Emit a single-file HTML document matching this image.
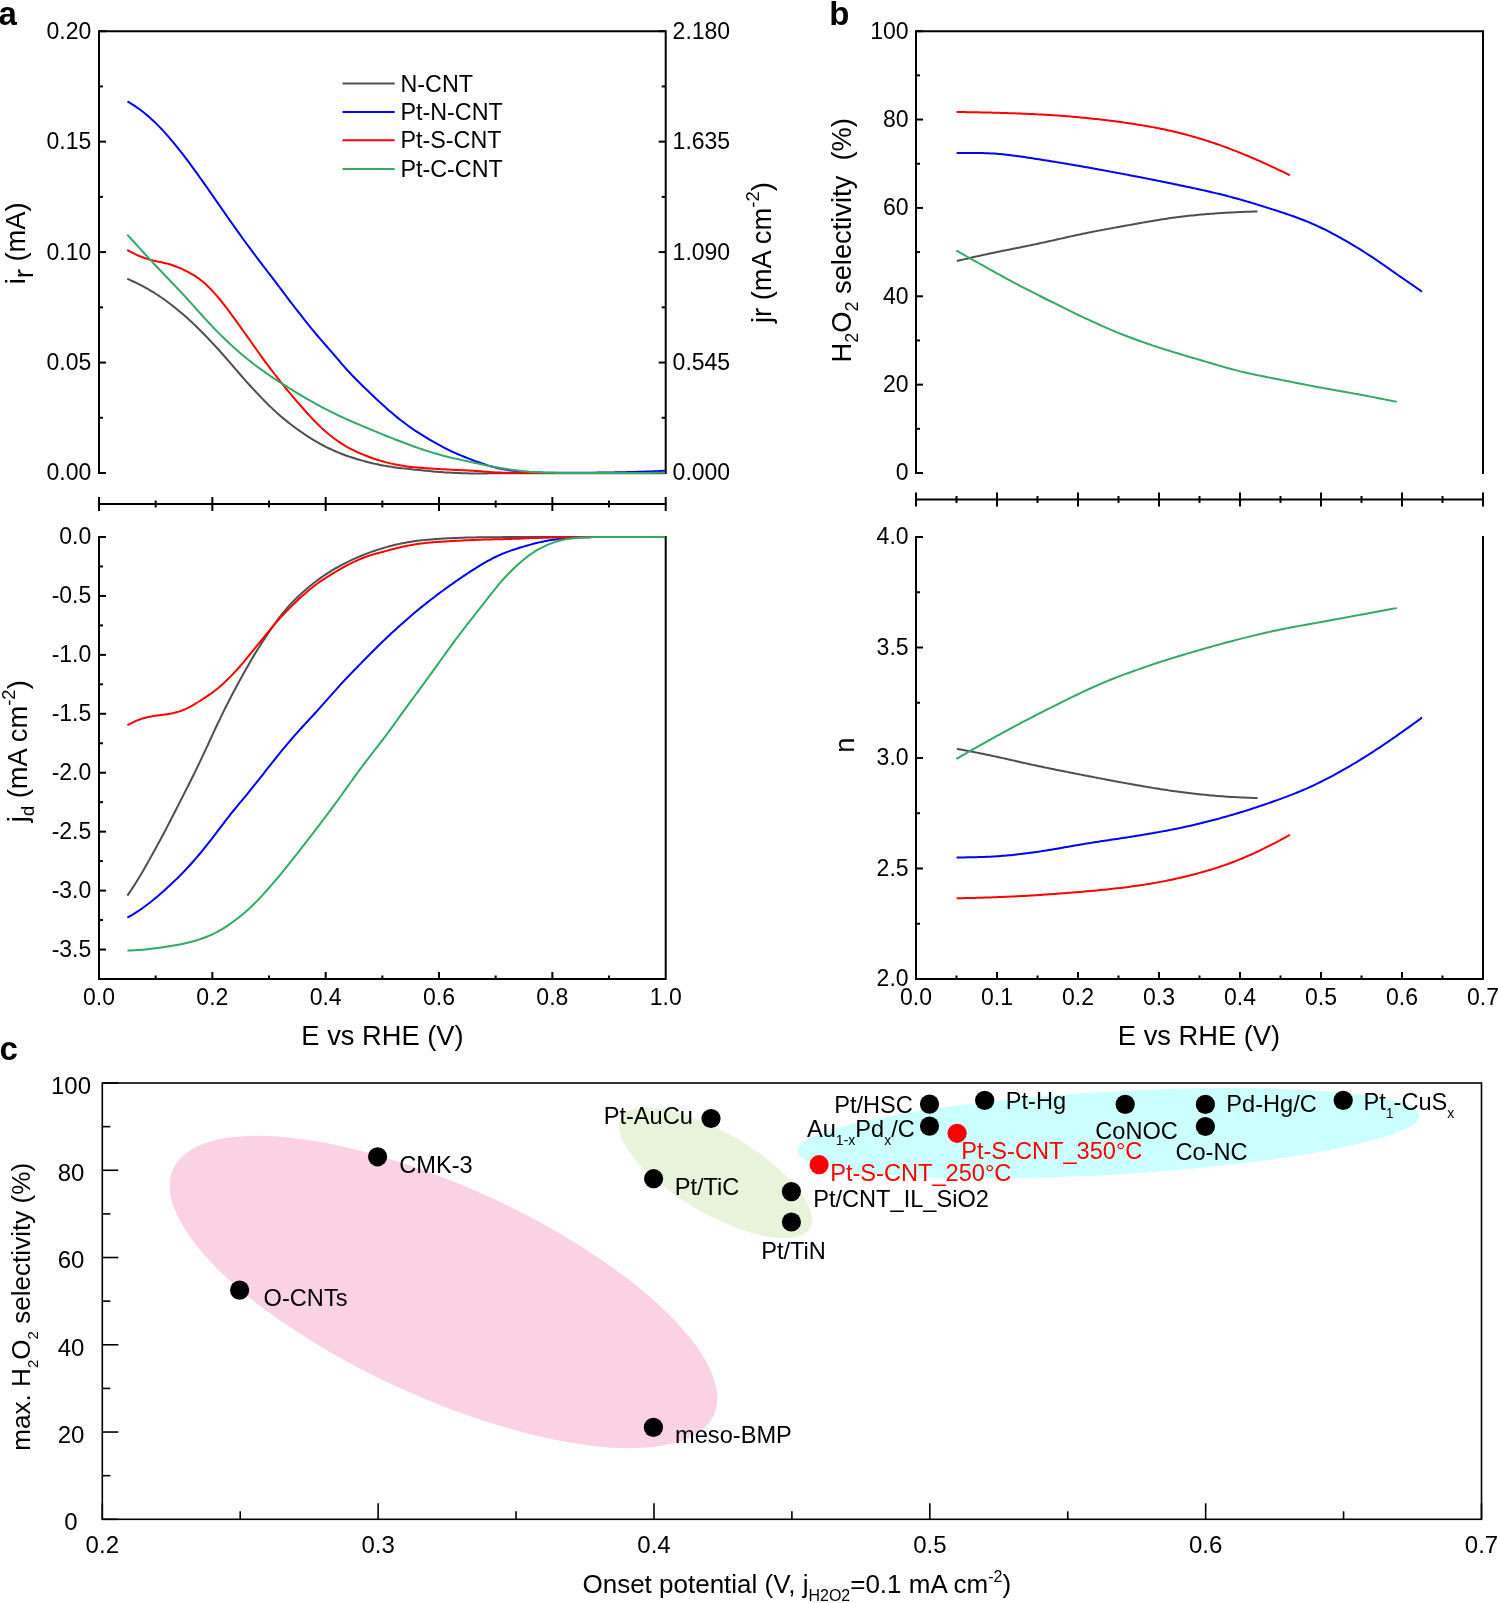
<!DOCTYPE html>
<html><head><meta charset="utf-8"><title>Figure</title><style>
html,body{margin:0;padding:0;background:#fff;overflow:hidden;}
svg{display:block;font-family:"Liberation Sans",sans-serif;will-change:transform;}
</style></head><body>
<svg width="1498" height="1603" viewBox="0 0 1498 1603">
<path d="M99,474 V31.2 H665.7 V474" fill="none" stroke="#000" stroke-width="2"/>
<line x1="99" y1="473" x2="106" y2="473" stroke="#000" stroke-width="2"/>
<line x1="658.7" y1="473" x2="665.7" y2="473" stroke="#000" stroke-width="2"/>
<line x1="99" y1="417.77" x2="103" y2="417.77" stroke="#000" stroke-width="2"/>
<line x1="661.7" y1="417.77" x2="665.7" y2="417.77" stroke="#000" stroke-width="2"/>
<line x1="99" y1="362.55" x2="106" y2="362.55" stroke="#000" stroke-width="2"/>
<line x1="658.7" y1="362.55" x2="665.7" y2="362.55" stroke="#000" stroke-width="2"/>
<line x1="99" y1="307.32" x2="103" y2="307.32" stroke="#000" stroke-width="2"/>
<line x1="661.7" y1="307.32" x2="665.7" y2="307.32" stroke="#000" stroke-width="2"/>
<line x1="99" y1="252.1" x2="106" y2="252.1" stroke="#000" stroke-width="2"/>
<line x1="658.7" y1="252.1" x2="665.7" y2="252.1" stroke="#000" stroke-width="2"/>
<line x1="99" y1="196.88" x2="103" y2="196.88" stroke="#000" stroke-width="2"/>
<line x1="661.7" y1="196.88" x2="665.7" y2="196.88" stroke="#000" stroke-width="2"/>
<line x1="99" y1="141.65" x2="106" y2="141.65" stroke="#000" stroke-width="2"/>
<line x1="658.7" y1="141.65" x2="665.7" y2="141.65" stroke="#000" stroke-width="2"/>
<line x1="99" y1="86.42" x2="103" y2="86.42" stroke="#000" stroke-width="2"/>
<line x1="661.7" y1="86.42" x2="665.7" y2="86.42" stroke="#000" stroke-width="2"/>
<line x1="99" y1="31.2" x2="106" y2="31.2" stroke="#000" stroke-width="2"/>
<line x1="658.7" y1="31.2" x2="665.7" y2="31.2" stroke="#000" stroke-width="2"/>
<text x="91.3" y="480.4" font-size="23" text-anchor="end">0.00</text>
<text x="91.3" y="369.95" font-size="23" text-anchor="end">0.05</text>
<text x="91.3" y="259.5" font-size="23" text-anchor="end">0.10</text>
<text x="91.3" y="149.05" font-size="23" text-anchor="end">0.15</text>
<text x="91.3" y="38.6" font-size="23" text-anchor="end">0.20</text>
<text x="672.6" y="480.4" font-size="23">0.000</text>
<text x="672.6" y="369.95" font-size="23">0.545</text>
<text x="672.6" y="259.5" font-size="23">1.090</text>
<text x="672.6" y="149.05" font-size="23">1.635</text>
<text x="672.6" y="38.6" font-size="23">2.180</text>
<line x1="98" y1="504" x2="666.7" y2="504" stroke="#000" stroke-width="2"/>
<line x1="99" y1="497" x2="99" y2="511" stroke="#000" stroke-width="2"/>
<line x1="155.67" y1="500.5" x2="155.67" y2="507.5" stroke="#000" stroke-width="2"/>
<line x1="212.34" y1="497" x2="212.34" y2="511" stroke="#000" stroke-width="2"/>
<line x1="269.01" y1="500.5" x2="269.01" y2="507.5" stroke="#000" stroke-width="2"/>
<line x1="325.68" y1="497" x2="325.68" y2="511" stroke="#000" stroke-width="2"/>
<line x1="382.35" y1="500.5" x2="382.35" y2="507.5" stroke="#000" stroke-width="2"/>
<line x1="439.02" y1="497" x2="439.02" y2="511" stroke="#000" stroke-width="2"/>
<line x1="495.69" y1="500.5" x2="495.69" y2="507.5" stroke="#000" stroke-width="2"/>
<line x1="552.36" y1="497" x2="552.36" y2="511" stroke="#000" stroke-width="2"/>
<line x1="609.03" y1="500.5" x2="609.03" y2="507.5" stroke="#000" stroke-width="2"/>
<line x1="665.7" y1="497" x2="665.7" y2="511" stroke="#000" stroke-width="2"/>
<path d="M99,536 V979 H665.7 V536" fill="none" stroke="#000" stroke-width="2"/>
<line x1="99" y1="537" x2="106" y2="537" stroke="#000" stroke-width="2"/>
<line x1="99" y1="566.47" x2="103" y2="566.47" stroke="#000" stroke-width="2"/>
<line x1="99" y1="595.93" x2="106" y2="595.93" stroke="#000" stroke-width="2"/>
<line x1="99" y1="625.4" x2="103" y2="625.4" stroke="#000" stroke-width="2"/>
<line x1="99" y1="654.87" x2="106" y2="654.87" stroke="#000" stroke-width="2"/>
<line x1="99" y1="684.33" x2="103" y2="684.33" stroke="#000" stroke-width="2"/>
<line x1="99" y1="713.8" x2="106" y2="713.8" stroke="#000" stroke-width="2"/>
<line x1="99" y1="743.27" x2="103" y2="743.27" stroke="#000" stroke-width="2"/>
<line x1="99" y1="772.73" x2="106" y2="772.73" stroke="#000" stroke-width="2"/>
<line x1="99" y1="802.2" x2="103" y2="802.2" stroke="#000" stroke-width="2"/>
<line x1="99" y1="831.67" x2="106" y2="831.67" stroke="#000" stroke-width="2"/>
<line x1="99" y1="861.13" x2="103" y2="861.13" stroke="#000" stroke-width="2"/>
<line x1="99" y1="890.6" x2="106" y2="890.6" stroke="#000" stroke-width="2"/>
<line x1="99" y1="920.07" x2="103" y2="920.07" stroke="#000" stroke-width="2"/>
<line x1="99" y1="949.53" x2="106" y2="949.53" stroke="#000" stroke-width="2"/>
<line x1="99" y1="979" x2="103" y2="979" stroke="#000" stroke-width="2"/>
<text x="91.3" y="544.4" font-size="23" text-anchor="end">0.0</text>
<text x="91.3" y="603.33" font-size="23" text-anchor="end">-0.5</text>
<text x="91.3" y="662.27" font-size="23" text-anchor="end">-1.0</text>
<text x="91.3" y="721.2" font-size="23" text-anchor="end">-1.5</text>
<text x="91.3" y="780.13" font-size="23" text-anchor="end">-2.0</text>
<text x="91.3" y="839.07" font-size="23" text-anchor="end">-2.5</text>
<text x="91.3" y="898" font-size="23" text-anchor="end">-3.0</text>
<text x="91.3" y="956.93" font-size="23" text-anchor="end">-3.5</text>
<line x1="155.67" y1="979" x2="155.67" y2="975.5" stroke="#000" stroke-width="2"/>
<line x1="212.34" y1="979" x2="212.34" y2="972" stroke="#000" stroke-width="2"/>
<line x1="269.01" y1="979" x2="269.01" y2="975.5" stroke="#000" stroke-width="2"/>
<line x1="325.68" y1="979" x2="325.68" y2="972" stroke="#000" stroke-width="2"/>
<line x1="382.35" y1="979" x2="382.35" y2="975.5" stroke="#000" stroke-width="2"/>
<line x1="439.02" y1="979" x2="439.02" y2="972" stroke="#000" stroke-width="2"/>
<line x1="495.69" y1="979" x2="495.69" y2="975.5" stroke="#000" stroke-width="2"/>
<line x1="552.36" y1="979" x2="552.36" y2="972" stroke="#000" stroke-width="2"/>
<line x1="609.03" y1="979" x2="609.03" y2="975.5" stroke="#000" stroke-width="2"/>
<text x="99" y="1004.7" font-size="23" text-anchor="middle">0.0</text>
<text x="212.34" y="1004.7" font-size="23" text-anchor="middle">0.2</text>
<text x="325.68" y="1004.7" font-size="23" text-anchor="middle">0.4</text>
<text x="439.02" y="1004.7" font-size="23" text-anchor="middle">0.6</text>
<text x="552.36" y="1004.7" font-size="23" text-anchor="middle">0.8</text>
<text x="665.7" y="1004.7" font-size="23" text-anchor="middle">1.0</text>
<text x="382.5" y="1045.2" font-size="27.3" text-anchor="middle">E vs RHE (V)</text>
<path d="M916,474 V31.2 H1483 V474" fill="none" stroke="#000" stroke-width="2"/>
<line x1="916" y1="473" x2="923" y2="473" stroke="#000" stroke-width="2"/>
<line x1="916" y1="428.82" x2="920" y2="428.82" stroke="#000" stroke-width="2"/>
<line x1="916" y1="384.64" x2="923" y2="384.64" stroke="#000" stroke-width="2"/>
<line x1="916" y1="340.46" x2="920" y2="340.46" stroke="#000" stroke-width="2"/>
<line x1="916" y1="296.28" x2="923" y2="296.28" stroke="#000" stroke-width="2"/>
<line x1="916" y1="252.1" x2="920" y2="252.1" stroke="#000" stroke-width="2"/>
<line x1="916" y1="207.92" x2="923" y2="207.92" stroke="#000" stroke-width="2"/>
<line x1="916" y1="163.74" x2="920" y2="163.74" stroke="#000" stroke-width="2"/>
<line x1="916" y1="119.56" x2="923" y2="119.56" stroke="#000" stroke-width="2"/>
<line x1="916" y1="75.38" x2="920" y2="75.38" stroke="#000" stroke-width="2"/>
<line x1="916" y1="31.2" x2="923" y2="31.2" stroke="#000" stroke-width="2"/>
<text x="908.6" y="480.4" font-size="23" text-anchor="end">0</text>
<text x="908.6" y="392.04" font-size="23" text-anchor="end">20</text>
<text x="908.6" y="303.68" font-size="23" text-anchor="end">40</text>
<text x="908.6" y="215.32" font-size="23" text-anchor="end">60</text>
<text x="908.6" y="126.96" font-size="23" text-anchor="end">80</text>
<text x="908.6" y="38.6" font-size="23" text-anchor="end">100</text>
<line x1="915" y1="499.5" x2="1484" y2="499.5" stroke="#000" stroke-width="2"/>
<line x1="916" y1="492.5" x2="916" y2="506.5" stroke="#000" stroke-width="2"/>
<line x1="956.5" y1="496" x2="956.5" y2="503" stroke="#000" stroke-width="2"/>
<line x1="997" y1="492.5" x2="997" y2="506.5" stroke="#000" stroke-width="2"/>
<line x1="1037.5" y1="496" x2="1037.5" y2="503" stroke="#000" stroke-width="2"/>
<line x1="1078" y1="492.5" x2="1078" y2="506.5" stroke="#000" stroke-width="2"/>
<line x1="1118.5" y1="496" x2="1118.5" y2="503" stroke="#000" stroke-width="2"/>
<line x1="1159" y1="492.5" x2="1159" y2="506.5" stroke="#000" stroke-width="2"/>
<line x1="1199.5" y1="496" x2="1199.5" y2="503" stroke="#000" stroke-width="2"/>
<line x1="1240" y1="492.5" x2="1240" y2="506.5" stroke="#000" stroke-width="2"/>
<line x1="1280.5" y1="496" x2="1280.5" y2="503" stroke="#000" stroke-width="2"/>
<line x1="1321" y1="492.5" x2="1321" y2="506.5" stroke="#000" stroke-width="2"/>
<line x1="1361.5" y1="496" x2="1361.5" y2="503" stroke="#000" stroke-width="2"/>
<line x1="1402" y1="492.5" x2="1402" y2="506.5" stroke="#000" stroke-width="2"/>
<line x1="1442.5" y1="496" x2="1442.5" y2="503" stroke="#000" stroke-width="2"/>
<line x1="1483" y1="492.5" x2="1483" y2="506.5" stroke="#000" stroke-width="2"/>
<path d="M916,536 V979 H1483 V536" fill="none" stroke="#000" stroke-width="2"/>
<line x1="916" y1="537" x2="923" y2="537" stroke="#000" stroke-width="2"/>
<line x1="916" y1="592.25" x2="920" y2="592.25" stroke="#000" stroke-width="2"/>
<line x1="916" y1="647.5" x2="923" y2="647.5" stroke="#000" stroke-width="2"/>
<line x1="916" y1="702.75" x2="920" y2="702.75" stroke="#000" stroke-width="2"/>
<line x1="916" y1="758" x2="923" y2="758" stroke="#000" stroke-width="2"/>
<line x1="916" y1="813.25" x2="920" y2="813.25" stroke="#000" stroke-width="2"/>
<line x1="916" y1="868.5" x2="923" y2="868.5" stroke="#000" stroke-width="2"/>
<line x1="916" y1="923.75" x2="920" y2="923.75" stroke="#000" stroke-width="2"/>
<line x1="916" y1="979" x2="923" y2="979" stroke="#000" stroke-width="2"/>
<text x="908.6" y="544.4" font-size="23" text-anchor="end">4.0</text>
<text x="908.6" y="654.9" font-size="23" text-anchor="end">3.5</text>
<text x="908.6" y="765.4" font-size="23" text-anchor="end">3.0</text>
<text x="908.6" y="875.9" font-size="23" text-anchor="end">2.5</text>
<text x="908.6" y="986.4" font-size="23" text-anchor="end">2.0</text>
<line x1="956.5" y1="979" x2="956.5" y2="975.5" stroke="#000" stroke-width="2"/>
<line x1="997" y1="979" x2="997" y2="972" stroke="#000" stroke-width="2"/>
<line x1="1037.5" y1="979" x2="1037.5" y2="975.5" stroke="#000" stroke-width="2"/>
<line x1="1078" y1="979" x2="1078" y2="972" stroke="#000" stroke-width="2"/>
<line x1="1118.5" y1="979" x2="1118.5" y2="975.5" stroke="#000" stroke-width="2"/>
<line x1="1159" y1="979" x2="1159" y2="972" stroke="#000" stroke-width="2"/>
<line x1="1199.5" y1="979" x2="1199.5" y2="975.5" stroke="#000" stroke-width="2"/>
<line x1="1240" y1="979" x2="1240" y2="972" stroke="#000" stroke-width="2"/>
<line x1="1280.5" y1="979" x2="1280.5" y2="975.5" stroke="#000" stroke-width="2"/>
<line x1="1321" y1="979" x2="1321" y2="972" stroke="#000" stroke-width="2"/>
<line x1="1361.5" y1="979" x2="1361.5" y2="975.5" stroke="#000" stroke-width="2"/>
<line x1="1402" y1="979" x2="1402" y2="972" stroke="#000" stroke-width="2"/>
<line x1="1442.5" y1="979" x2="1442.5" y2="975.5" stroke="#000" stroke-width="2"/>
<text x="916" y="1004.7" font-size="23" text-anchor="middle">0.0</text>
<text x="997" y="1004.7" font-size="23" text-anchor="middle">0.1</text>
<text x="1078" y="1004.7" font-size="23" text-anchor="middle">0.2</text>
<text x="1159" y="1004.7" font-size="23" text-anchor="middle">0.3</text>
<text x="1240" y="1004.7" font-size="23" text-anchor="middle">0.4</text>
<text x="1321" y="1004.7" font-size="23" text-anchor="middle">0.5</text>
<text x="1402" y="1004.7" font-size="23" text-anchor="middle">0.6</text>
<text x="1483" y="1004.7" font-size="23" text-anchor="middle">0.7</text>
<text x="1199" y="1045.2" font-size="27.3" text-anchor="middle">E vs RHE (V)</text>
<text x="-1.5" y="25.3" font-size="33" font-weight="bold">a</text>
<text x="829.2" y="24.8" font-size="33" font-weight="bold">b</text>
<text x="-0.5" y="1059.5" font-size="33" font-weight="bold">c</text>
<text transform="translate(24.5,243.4) rotate(-90)" font-size="27.3" text-anchor="middle">i<tspan dy="8.2">r</tspan><tspan dy="-8.2"> (mA)</tspan></text>
<text transform="translate(771.2,252.6) rotate(-90)" font-size="27.3" text-anchor="middle">jr (mA cm<tspan font-size="18.5" dy="-12">-2</tspan><tspan dy="12">)</tspan></text>
<text transform="translate(26.5,751.2) rotate(-90)" font-size="27.3" text-anchor="middle">j<tspan font-size="18.3" dy="7.4">d</tspan><tspan dy="-7.4"> (mA cm</tspan><tspan font-size="18.5" dy="-12">-2</tspan><tspan dy="12">)</tspan></text>
<text transform="translate(851.4,240.3) rotate(-90)" font-size="27.3" text-anchor="middle" xml:space="preserve">H<tspan font-size="18" dy="7">2</tspan><tspan dy="-7">O</tspan><tspan font-size="18" dy="7">2</tspan><tspan dy="-7"> selectivity  (%)</tspan></text>
<text transform="translate(854.4,745.2) rotate(-90)" font-size="27.3" text-anchor="middle">n</text>
<line x1="342.5" y1="83.5" x2="394.7" y2="83.5" stroke="#4f4f4f" stroke-width="2"/>
<text x="400.5" y="91.6" font-size="23.3">N-CNT</text>
<line x1="342.5" y1="112" x2="394.7" y2="112" stroke="#0000ff" stroke-width="2"/>
<text x="400.5" y="120.1" font-size="23.3">Pt-N-CNT</text>
<line x1="342.5" y1="140.3" x2="394.7" y2="140.3" stroke="#ff0000" stroke-width="2"/>
<text x="400.5" y="148.4" font-size="23.3">Pt-S-CNT</text>
<line x1="342.5" y1="168.9" x2="394.7" y2="168.9" stroke="#33a966" stroke-width="2"/>
<text x="400.5" y="177" font-size="23.3">Pt-C-CNT</text>
<path d="M127.3,278.75 L129.3,279.65 L131.3,280.55 L133.3,281.48 L135.3,282.42 L137.3,283.4 L139.3,284.39 L141.3,285.42 L143.3,286.48 L145.3,287.56 L147.3,288.68 L149.3,289.83 L151.3,291.02 L153.3,292.23 L155.3,293.49 L157.3,294.78 L159.3,296.1 L161.3,297.46 L163.3,298.86 L165.3,300.29 L167.3,301.75 L169.3,303.25 L171.3,304.78 L173.3,306.34 L175.3,307.93 L177.3,309.54 L179.3,311.19 L181.3,312.87 L183.3,314.58 L185.3,316.32 L187.3,318.09 L189.3,319.9 L191.3,321.74 L193.3,323.62 L195.3,325.53 L197.3,327.47 L199.3,329.44 L201.3,331.44 L203.3,333.47 L205.3,335.53 L207.3,337.6 L209.3,339.7 L211.3,341.82 L213.3,343.96 L215.3,346.12 L217.3,348.3 L219.3,350.51 L221.3,352.74 L223.3,354.99 L225.3,357.27 L227.3,359.56 L229.3,361.87 L231.3,364.19 L233.3,366.52 L235.3,368.85 L237.3,371.17 L239.3,373.49 L241.3,375.78 L243.3,378.06 L245.3,380.32 L247.3,382.56 L249.3,384.77 L251.3,386.96 L253.3,389.13 L255.3,391.28 L257.3,393.4 L259.3,395.51 L261.3,397.6 L263.3,399.66 L265.3,401.69 L267.3,403.7 L269.3,405.67 L271.3,407.61 L273.3,409.51 L275.3,411.36 L277.3,413.18 L279.3,414.96 L281.3,416.69 L283.3,418.38 L285.3,420.03 L287.3,421.65 L289.3,423.22 L291.3,424.77 L293.3,426.28 L295.3,427.76 L297.3,429.22 L299.3,430.64 L301.3,432.03 L303.3,433.4 L305.3,434.74 L307.3,436.06 L309.3,437.34 L311.3,438.6 L313.3,439.82 L315.3,441.02 L317.3,442.19 L319.3,443.32 L321.3,444.43 L323.3,445.5 L325.3,446.54 L327.3,447.54 L329.3,448.51 L331.3,449.45 L333.3,450.36 L335.3,451.24 L337.3,452.1 L339.3,452.92 L341.3,453.72 L343.3,454.49 L345.3,455.23 L347.3,455.95 L349.3,456.64 L351.3,457.31 L353.3,457.96 L355.3,458.58 L357.3,459.19 L359.3,459.77 L361.3,460.34 L363.3,460.9 L365.3,461.44 L367.3,461.96 L369.3,462.47 L371.3,462.97 L373.3,463.44 L375.3,463.9 L377.3,464.34 L379.3,464.75 L381.3,465.15 L383.3,465.53 L385.3,465.89 L387.3,466.23 L389.3,466.55 L391.3,466.85 L393.3,467.14 L395.3,467.41 L397.3,467.67 L399.3,467.91 L401.3,468.15 L403.3,468.37 L405.3,468.59 L407.3,468.81 L409.3,469.02 L411.3,469.22 L413.3,469.43 L415.3,469.63 L417.3,469.84 L419.3,470.04 L421.3,470.25 L423.3,470.45 L425.3,470.66 L427.3,470.86 L429.3,471.06 L431.3,471.26 L433.3,471.44 L435.3,471.63 L437.3,471.8 L439.3,471.96 L441.3,472.11 L443.3,472.25 L445.3,472.38 L447.3,472.5 L449.3,472.61 L451.3,472.72 L453.3,472.82 L455.3,472.91 L457.3,473 L459.3,473.08 L461.3,473.15 L463.3,473.22 L465.3,473.29 L467.3,473.34 L469.3,473.39 L471.3,473.43 L473.3,473.46 L475.3,473.48 L477.3,473.49 L479.3,473.49 L481.3,473.48 L483.3,473.46 L485.3,473.43 L487.3,473.4 L489.3,473.37 L491.3,473.33 L493.3,473.3 L495.3,473.28 L497.3,473.25 L499.3,473.24 L501.3,473.22 L503.3,473.21 L505.3,473.21 L507.3,473.2 L509.3,473.2 L511.3,473.2 L513.3,473.2 L515.3,473.2 L517.3,473.2 L519.3,473.2 L521.3,473.2 L523.3,473.2 L525.3,473.2 L527.3,473.2 L529.3,473.2 L531.3,473.2 L533.3,473.2 L535.3,473.2 L537.3,473.2 L539.3,473.2 L541.3,473.2 L543.3,473.2 L545.3,473.2 L547.3,473.2 L549.3,473.2 L551.3,473.2 L553.3,473.2 L555.3,473.2 L557.3,473.2 L559.3,473.2 L561.3,473.2 L563.3,473.2 L565.3,473.2 L567.3,473.2 L569.3,473.2 L571.3,473.2 L573.3,473.2 L575.3,473.2 L577.3,473.2 L579.3,473.2 L581.3,473.2 L583.3,473.2 L585.3,473.2 L587.3,473.2 L589.3,473.2 L591.3,473.2 L593.3,473.2 L595.3,473.2 L597.3,473.2 L599.3,473.2 L601.3,473.2 L603.3,473.2 L605.3,473.2 L607.3,473.2 L609.3,473.2 L611.3,473.2 L613.3,473.2 L615.3,473.2 L617.3,473.2 L619.3,473.2 L621.3,473.2 L623.3,473.2 L625.3,473.2 L627.3,473.2 L629.3,473.2 L631.3,473.2 L633.3,473.2 L635.3,473.2 L637.3,473.2 L639.3,473.2 L641.3,473.2 L643.3,473.2 L645.3,473.2 L647.3,473.2 L649.3,473.2 L651.3,473.2 L653.3,473.2 L655.3,473.2 L657.3,473.2 L659.3,473.2 L661.3,473.2 L663.3,473.2 L665,473.2" fill="none" stroke="#4f4f4f" stroke-width="2" stroke-linejoin="round"/>
<path d="M127.5,101.3 L129.5,102.54 L131.5,103.8 L133.5,105.1 L135.5,106.45 L137.5,107.84 L139.5,109.28 L141.5,110.78 L143.5,112.33 L145.5,113.94 L147.5,115.61 L149.5,117.34 L151.5,119.13 L153.5,120.99 L155.5,122.9 L157.5,124.88 L159.5,126.92 L161.5,129.01 L163.5,131.17 L165.5,133.38 L167.5,135.64 L169.5,137.94 L171.5,140.29 L173.5,142.67 L175.5,145.1 L177.5,147.56 L179.5,150.06 L181.5,152.61 L183.5,155.19 L185.5,157.81 L187.5,160.47 L189.5,163.16 L191.5,165.89 L193.5,168.64 L195.5,171.41 L197.5,174.19 L199.5,176.99 L201.5,179.79 L203.5,182.61 L205.5,185.43 L207.5,188.26 L209.5,191.11 L211.5,193.97 L213.5,196.84 L215.5,199.72 L217.5,202.62 L219.5,205.51 L221.5,208.4 L223.5,211.29 L225.5,214.16 L227.5,217.02 L229.5,219.87 L231.5,222.71 L233.5,225.53 L235.5,228.35 L237.5,231.16 L239.5,233.95 L241.5,236.74 L243.5,239.5 L245.5,242.25 L247.5,244.99 L249.5,247.7 L251.5,250.4 L253.5,253.08 L255.5,255.75 L257.5,258.4 L259.5,261.03 L261.5,263.66 L263.5,266.28 L265.5,268.89 L267.5,271.5 L269.5,274.1 L271.5,276.72 L273.5,279.34 L275.5,281.97 L277.5,284.61 L279.5,287.27 L281.5,289.93 L283.5,292.6 L285.5,295.26 L287.5,297.92 L289.5,300.55 L291.5,303.17 L293.5,305.76 L295.5,308.34 L297.5,310.9 L299.5,313.45 L301.5,315.99 L303.5,318.52 L305.5,321.04 L307.5,323.55 L309.5,326.05 L311.5,328.51 L313.5,330.96 L315.5,333.37 L317.5,335.74 L319.5,338.09 L321.5,340.4 L323.5,342.7 L325.5,344.98 L327.5,347.26 L329.5,349.56 L331.5,351.86 L333.5,354.18 L335.5,356.52 L337.5,358.86 L339.5,361.2 L341.5,363.53 L343.5,365.84 L345.5,368.11 L347.5,370.34 L349.5,372.52 L351.5,374.65 L353.5,376.75 L355.5,378.8 L357.5,380.82 L359.5,382.81 L361.5,384.77 L363.5,386.72 L365.5,388.65 L367.5,390.58 L369.5,392.49 L371.5,394.38 L373.5,396.27 L375.5,398.15 L377.5,400.02 L379.5,401.88 L381.5,403.72 L383.5,405.54 L385.5,407.34 L387.5,409.13 L389.5,410.88 L391.5,412.61 L393.5,414.31 L395.5,415.98 L397.5,417.62 L399.5,419.22 L401.5,420.79 L403.5,422.32 L405.5,423.82 L407.5,425.28 L409.5,426.72 L411.5,428.12 L413.5,429.5 L415.5,430.85 L417.5,432.16 L419.5,433.46 L421.5,434.72 L423.5,435.96 L425.5,437.18 L427.5,438.38 L429.5,439.55 L431.5,440.71 L433.5,441.84 L435.5,442.97 L437.5,444.07 L439.5,445.17 L441.5,446.24 L443.5,447.29 L445.5,448.33 L447.5,449.34 L449.5,450.33 L451.5,451.29 L453.5,452.23 L455.5,453.13 L457.5,454.01 L459.5,454.87 L461.5,455.69 L463.5,456.5 L465.5,457.29 L467.5,458.06 L469.5,458.82 L471.5,459.58 L473.5,460.33 L475.5,461.07 L477.5,461.82 L479.5,462.55 L481.5,463.28 L483.5,463.99 L485.5,464.67 L487.5,465.33 L489.5,465.95 L491.5,466.53 L493.5,467.08 L495.5,467.58 L497.5,468.04 L499.5,468.46 L501.5,468.85 L503.5,469.22 L505.5,469.55 L507.5,469.86 L509.5,470.16 L511.5,470.43 L513.5,470.68 L515.5,470.92 L517.5,471.14 L519.5,471.34 L521.5,471.52 L523.5,471.69 L525.5,471.85 L527.5,471.99 L529.5,472.11 L531.5,472.23 L533.5,472.33 L535.5,472.42 L537.5,472.49 L539.5,472.56 L541.5,472.62 L543.5,472.67 L545.5,472.71 L547.5,472.75 L549.5,472.78 L551.5,472.81 L553.5,472.83 L555.5,472.85 L557.5,472.86 L559.5,472.87 L561.5,472.87 L563.5,472.87 L565.5,472.87 L567.5,472.87 L569.5,472.86 L571.5,472.85 L573.5,472.84 L575.5,472.83 L577.5,472.81 L579.5,472.8 L581.5,472.78 L583.5,472.77 L585.5,472.75 L587.5,472.73 L589.5,472.71 L591.5,472.69 L593.5,472.67 L595.5,472.64 L597.5,472.62 L599.5,472.6 L601.5,472.57 L603.5,472.55 L605.5,472.52 L607.5,472.49 L609.5,472.46 L611.5,472.43 L613.5,472.39 L615.5,472.36 L617.5,472.32 L619.5,472.28 L621.5,472.24 L623.5,472.2 L625.5,472.15 L627.5,472.11 L629.5,472.06 L631.5,472.01 L633.5,471.96 L635.5,471.9 L637.5,471.85 L639.5,471.79 L641.5,471.73 L643.5,471.67 L645.5,471.6 L647.5,471.53 L649.5,471.46 L651.5,471.38 L653.5,471.3 L655.5,471.22 L657.5,471.13 L659.5,471.05 L661.5,470.96 L663.5,470.87 L665,470.79" fill="none" stroke="#0000ff" stroke-width="2" stroke-linejoin="round"/>
<path d="M127.3,250 L129.3,251.1 L131.3,252.17 L133.3,253.2 L135.3,254.19 L137.3,255.11 L139.3,255.98 L141.3,256.79 L143.3,257.54 L145.3,258.25 L147.3,258.91 L149.3,259.52 L151.3,260.08 L153.3,260.59 L155.3,261.05 L157.3,261.48 L159.3,261.89 L161.3,262.29 L163.3,262.7 L165.3,263.15 L167.3,263.63 L169.3,264.18 L171.3,264.78 L173.3,265.45 L175.3,266.19 L177.3,266.98 L179.3,267.82 L181.3,268.7 L183.3,269.63 L185.3,270.59 L187.3,271.6 L189.3,272.66 L191.3,273.78 L193.3,274.95 L195.3,276.2 L197.3,277.53 L199.3,278.94 L201.3,280.46 L203.3,282.09 L205.3,283.84 L207.3,285.7 L209.3,287.67 L211.3,289.73 L213.3,291.87 L215.3,294.1 L217.3,296.39 L219.3,298.76 L221.3,301.21 L223.3,303.73 L225.3,306.31 L227.3,308.95 L229.3,311.63 L231.3,314.34 L233.3,317.06 L235.3,319.81 L237.3,322.57 L239.3,325.36 L241.3,328.16 L243.3,330.97 L245.3,333.79 L247.3,336.61 L249.3,339.44 L251.3,342.26 L253.3,345.09 L255.3,347.91 L257.3,350.72 L259.3,353.53 L261.3,356.31 L263.3,359.07 L265.3,361.8 L267.3,364.5 L269.3,367.17 L271.3,369.81 L273.3,372.42 L275.3,375.01 L277.3,377.57 L279.3,380.11 L281.3,382.62 L283.3,385.11 L285.3,387.57 L287.3,390.02 L289.3,392.44 L291.3,394.83 L293.3,397.21 L295.3,399.56 L297.3,401.89 L299.3,404.2 L301.3,406.49 L303.3,408.76 L305.3,411.01 L307.3,413.24 L309.3,415.43 L311.3,417.58 L313.3,419.69 L315.3,421.75 L317.3,423.76 L319.3,425.72 L321.3,427.63 L323.3,429.47 L325.3,431.27 L327.3,433 L329.3,434.67 L331.3,436.27 L333.3,437.82 L335.3,439.3 L337.3,440.73 L339.3,442.11 L341.3,443.43 L343.3,444.69 L345.3,445.91 L347.3,447.07 L349.3,448.18 L351.3,449.23 L353.3,450.23 L355.3,451.19 L357.3,452.11 L359.3,453 L361.3,453.86 L363.3,454.69 L365.3,455.5 L367.3,456.28 L369.3,457.03 L371.3,457.76 L373.3,458.46 L375.3,459.13 L377.3,459.78 L379.3,460.4 L381.3,461 L383.3,461.57 L385.3,462.12 L387.3,462.64 L389.3,463.14 L391.3,463.6 L393.3,464.04 L395.3,464.45 L397.3,464.84 L399.3,465.2 L401.3,465.54 L403.3,465.85 L405.3,466.14 L407.3,466.41 L409.3,466.67 L411.3,466.9 L413.3,467.13 L415.3,467.33 L417.3,467.53 L419.3,467.71 L421.3,467.87 L423.3,468.03 L425.3,468.17 L427.3,468.31 L429.3,468.43 L431.3,468.56 L433.3,468.68 L435.3,468.8 L437.3,468.91 L439.3,469.02 L441.3,469.14 L443.3,469.25 L445.3,469.36 L447.3,469.46 L449.3,469.57 L451.3,469.67 L453.3,469.78 L455.3,469.88 L457.3,469.97 L459.3,470.07 L461.3,470.17 L463.3,470.27 L465.3,470.37 L467.3,470.47 L469.3,470.58 L471.3,470.69 L473.3,470.8 L475.3,470.92 L477.3,471.05 L479.3,471.19 L481.3,471.35 L483.3,471.52 L485.3,471.69 L487.3,471.87 L489.3,472.04 L491.3,472.19 L493.3,472.32 L495.3,472.42 L497.3,472.5 L499.3,472.56 L501.3,472.6 L503.3,472.64 L505.3,472.67 L507.3,472.7 L509.3,472.72 L511.3,472.74 L513.3,472.76 L515.3,472.79 L517.3,472.81 L519.3,472.83 L521.3,472.85 L523.3,472.87 L525.3,472.9 L527.3,472.92 L529.3,472.93 L531.3,472.95 L533.3,472.97 L535.3,472.98 L537.3,472.99 L539.3,472.99 L541.3,473 L543.3,473 L545.3,473 L547.3,473 L549.3,473 L551.3,473 L553.3,473 L555.3,473 L557.3,473 L559.3,473 L561.3,473 L563.3,473 L565.3,473 L567.3,473 L569.3,473 L571.3,473 L573.3,473 L575.3,473 L577.3,473 L579.3,473 L581.3,473 L583.3,473 L585.3,473 L587.3,473 L589.3,473 L591.3,473 L593.3,473 L595.3,473 L597.3,473 L599.3,473 L601.3,473 L603.3,473 L605.3,473 L607.3,473 L609.3,473 L611.3,473 L613.3,473 L615.3,473 L617.3,473 L619.3,473 L621.3,473 L623.3,473 L625.3,473 L627.3,473 L629.3,473 L631.3,473 L633.3,473 L635.3,473 L637.3,473 L639.3,473 L641.3,473 L643.3,473 L645.3,473 L647.3,473 L649.3,473 L651.3,473 L653.3,473 L655.3,473 L657.3,473 L659.3,473 L661.3,473 L663.3,473 L665,473" fill="none" stroke="#ff0000" stroke-width="2" stroke-linejoin="round"/>
<path d="M127.3,234.59 L129.3,236.82 L131.3,239.04 L133.3,241.26 L135.3,243.48 L137.3,245.69 L139.3,247.89 L141.3,250.08 L143.3,252.27 L145.3,254.45 L147.3,256.62 L149.3,258.78 L151.3,260.93 L153.3,263.07 L155.3,265.2 L157.3,267.31 L159.3,269.42 L161.3,271.52 L163.3,273.62 L165.3,275.71 L167.3,277.79 L169.3,279.88 L171.3,281.96 L173.3,284.05 L175.3,286.15 L177.3,288.26 L179.3,290.37 L181.3,292.5 L183.3,294.64 L185.3,296.8 L187.3,298.98 L189.3,301.17 L191.3,303.38 L193.3,305.6 L195.3,307.83 L197.3,310.06 L199.3,312.3 L201.3,314.52 L203.3,316.74 L205.3,318.94 L207.3,321.13 L209.3,323.29 L211.3,325.42 L213.3,327.52 L215.3,329.59 L217.3,331.63 L219.3,333.64 L221.3,335.62 L223.3,337.58 L225.3,339.5 L227.3,341.4 L229.3,343.27 L231.3,345.12 L233.3,346.94 L235.3,348.74 L237.3,350.51 L239.3,352.25 L241.3,353.97 L243.3,355.66 L245.3,357.32 L247.3,358.95 L249.3,360.55 L251.3,362.12 L253.3,363.67 L255.3,365.19 L257.3,366.68 L259.3,368.15 L261.3,369.6 L263.3,371.03 L265.3,372.44 L267.3,373.82 L269.3,375.2 L271.3,376.55 L273.3,377.9 L275.3,379.23 L277.3,380.54 L279.3,381.85 L281.3,383.15 L283.3,384.43 L285.3,385.71 L287.3,386.97 L289.3,388.23 L291.3,389.47 L293.3,390.71 L295.3,391.93 L297.3,393.14 L299.3,394.34 L301.3,395.53 L303.3,396.71 L305.3,397.88 L307.3,399.04 L309.3,400.18 L311.3,401.31 L313.3,402.43 L315.3,403.53 L317.3,404.62 L319.3,405.7 L321.3,406.76 L323.3,407.82 L325.3,408.86 L327.3,409.9 L329.3,410.92 L331.3,411.93 L333.3,412.93 L335.3,413.92 L337.3,414.89 L339.3,415.84 L341.3,416.78 L343.3,417.7 L345.3,418.6 L347.3,419.49 L349.3,420.37 L351.3,421.24 L353.3,422.11 L355.3,422.97 L357.3,423.83 L359.3,424.69 L361.3,425.55 L363.3,426.41 L365.3,427.26 L367.3,428.11 L369.3,428.95 L371.3,429.79 L373.3,430.62 L375.3,431.44 L377.3,432.26 L379.3,433.07 L381.3,433.88 L383.3,434.68 L385.3,435.48 L387.3,436.28 L389.3,437.08 L391.3,437.87 L393.3,438.66 L395.3,439.45 L397.3,440.23 L399.3,441.01 L401.3,441.78 L403.3,442.54 L405.3,443.29 L407.3,444.04 L409.3,444.78 L411.3,445.51 L413.3,446.23 L415.3,446.95 L417.3,447.65 L419.3,448.35 L421.3,449.04 L423.3,449.71 L425.3,450.37 L427.3,451.02 L429.3,451.66 L431.3,452.29 L433.3,452.9 L435.3,453.49 L437.3,454.07 L439.3,454.64 L441.3,455.19 L443.3,455.73 L445.3,456.24 L447.3,456.75 L449.3,457.23 L451.3,457.71 L453.3,458.17 L455.3,458.62 L457.3,459.07 L459.3,459.5 L461.3,459.93 L463.3,460.36 L465.3,460.78 L467.3,461.2 L469.3,461.63 L471.3,462.05 L473.3,462.48 L475.3,462.92 L477.3,463.36 L479.3,463.8 L481.3,464.24 L483.3,464.68 L485.3,465.12 L487.3,465.55 L489.3,465.97 L491.3,466.37 L493.3,466.76 L495.3,467.14 L497.3,467.5 L499.3,467.85 L501.3,468.18 L503.3,468.5 L505.3,468.81 L507.3,469.11 L509.3,469.4 L511.3,469.68 L513.3,469.95 L515.3,470.21 L517.3,470.46 L519.3,470.71 L521.3,470.94 L523.3,471.16 L525.3,471.37 L527.3,471.56 L529.3,471.74 L531.3,471.91 L533.3,472.06 L535.3,472.19 L537.3,472.31 L539.3,472.41 L541.3,472.5 L543.3,472.57 L545.3,472.64 L547.3,472.69 L549.3,472.74 L551.3,472.78 L553.3,472.82 L555.3,472.85 L557.3,472.88 L559.3,472.91 L561.3,472.93 L563.3,472.95 L565.3,472.96 L567.3,472.97 L569.3,472.98 L571.3,472.99 L573.3,472.99 L575.3,472.99 L577.3,473 L579.3,473 L581.3,473 L583.3,473 L585.3,473 L587.3,473 L589.3,473 L591.3,473 L593.3,473 L595.3,473 L597.3,472.99 L599.3,472.99 L601.3,472.99 L603.3,472.99 L605.3,472.99 L607.3,472.99 L609.3,472.98 L611.3,472.98 L613.3,472.98 L615.3,472.98 L617.3,472.97 L619.3,472.97 L621.3,472.97 L623.3,472.96 L625.3,472.96 L627.3,472.95 L629.3,472.95 L631.3,472.94 L633.3,472.94 L635.3,472.93 L637.3,472.93 L639.3,472.92 L641.3,472.91 L643.3,472.9 L645.3,472.9 L647.3,472.89 L649.3,472.88 L651.3,472.87 L653.3,472.86 L655.3,472.85 L657.3,472.84 L659.3,472.83 L661.3,472.82 L663.3,472.81 L665,472.8" fill="none" stroke="#33a966" stroke-width="2" stroke-linejoin="round"/>
<path d="M127.4,895.56 L129.4,892.66 L131.4,889.7 L133.4,886.66 L135.4,883.54 L137.4,880.34 L139.4,877.04 L141.4,873.67 L143.4,870.23 L145.4,866.73 L147.4,863.19 L149.4,859.62 L151.4,856.03 L153.4,852.41 L155.4,848.78 L157.4,845.13 L159.4,841.45 L161.4,837.73 L163.4,833.98 L165.4,830.19 L167.4,826.36 L169.4,822.5 L171.4,818.61 L173.4,814.69 L175.4,810.77 L177.4,806.85 L179.4,802.92 L181.4,799 L183.4,795.08 L185.4,791.16 L187.4,787.22 L189.4,783.26 L191.4,779.27 L193.4,775.24 L195.4,771.17 L197.4,767.05 L199.4,762.88 L201.4,758.66 L203.4,754.41 L205.4,750.11 L207.4,745.8 L209.4,741.47 L211.4,737.14 L213.4,732.83 L215.4,728.54 L217.4,724.28 L219.4,720.07 L221.4,715.92 L223.4,711.83 L225.4,707.8 L227.4,703.83 L229.4,699.93 L231.4,696.08 L233.4,692.27 L235.4,688.51 L237.4,684.78 L239.4,681.08 L241.4,677.41 L243.4,673.78 L245.4,670.19 L247.4,666.65 L249.4,663.16 L251.4,659.73 L253.4,656.37 L255.4,653.08 L257.4,649.84 L259.4,646.67 L261.4,643.54 L263.4,640.45 L265.4,637.39 L267.4,634.37 L269.4,631.39 L271.4,628.46 L273.4,625.59 L275.4,622.79 L277.4,620.06 L279.4,617.42 L281.4,614.87 L283.4,612.4 L285.4,610.02 L287.4,607.73 L289.4,605.51 L291.4,603.36 L293.4,601.28 L295.4,599.26 L297.4,597.3 L299.4,595.39 L301.4,593.53 L303.4,591.71 L305.4,589.95 L307.4,588.22 L309.4,586.55 L311.4,584.92 L313.4,583.33 L315.4,581.79 L317.4,580.29 L319.4,578.83 L321.4,577.4 L323.4,576.02 L325.4,574.67 L327.4,573.36 L329.4,572.08 L331.4,570.84 L333.4,569.63 L335.4,568.46 L337.4,567.32 L339.4,566.21 L341.4,565.13 L343.4,564.08 L345.4,563.06 L347.4,562.06 L349.4,561.09 L351.4,560.14 L353.4,559.21 L355.4,558.3 L357.4,557.42 L359.4,556.56 L361.4,555.72 L363.4,554.91 L365.4,554.12 L367.4,553.35 L369.4,552.61 L371.4,551.89 L373.4,551.19 L375.4,550.51 L377.4,549.85 L379.4,549.22 L381.4,548.6 L383.4,548 L385.4,547.41 L387.4,546.85 L389.4,546.3 L391.4,545.77 L393.4,545.27 L395.4,544.78 L397.4,544.32 L399.4,543.87 L401.4,543.45 L403.4,543.05 L405.4,542.68 L407.4,542.32 L409.4,541.98 L411.4,541.66 L413.4,541.36 L415.4,541.08 L417.4,540.81 L419.4,540.57 L421.4,540.33 L423.4,540.12 L425.4,539.91 L427.4,539.72 L429.4,539.54 L431.4,539.38 L433.4,539.22 L435.4,539.07 L437.4,538.93 L439.4,538.8 L441.4,538.67 L443.4,538.56 L445.4,538.44 L447.4,538.34 L449.4,538.24 L451.4,538.14 L453.4,538.05 L455.4,537.97 L457.4,537.89 L459.4,537.81 L461.4,537.74 L463.4,537.68 L465.4,537.62 L467.4,537.56 L469.4,537.51 L471.4,537.46 L473.4,537.42 L475.4,537.38 L477.4,537.34 L479.4,537.31 L481.4,537.28 L483.4,537.25 L485.4,537.23 L487.4,537.21 L489.4,537.19 L491.4,537.18 L493.4,537.17 L495.4,537.16 L497.4,537.15 L499.4,537.14 L501.4,537.13 L503.4,537.12 L505.4,537.12 L507.4,537.11 L509.4,537.1 L511.4,537.1 L513.4,537.09 L515.4,537.09 L517.4,537.08 L519.4,537.08 L521.4,537.08 L523.4,537.07 L525.4,537.07 L527.4,537.06 L529.4,537.06 L531.4,537.05 L533.4,537.05 L535.4,537.05 L537.4,537.04 L539.4,537.04 L541.4,537.04 L543.4,537.03 L545.4,537.03 L547.4,537.03 L549.4,537.02 L551.4,537.02 L553.4,537.02 L555.4,537.02 L557.4,537.01 L559.4,537.01 L561.4,537.01 L563.4,537.01 L565.4,537.01 L567.4,537.01 L569.4,537 L571.4,537 L573.4,537 L575.4,537 L577.4,537 L579.4,537 L581.4,537 L583.4,537 L585.4,537 L587.4,537 L589.4,537 L591.4,537 L593.4,537 L595.4,537 L597.4,537 L599.4,537 L601.4,537 L603.4,537 L605.4,537 L607.4,537 L609.4,537 L611.4,537 L613.4,537 L615.4,537 L617.4,537 L619.4,537 L621.4,537 L623.4,537 L625.4,537 L627.4,537 L629.4,537 L631.4,537 L633.4,537 L635.4,537 L637.4,537 L639.4,537 L641.4,537 L643.4,537 L645.4,537 L647.4,537 L649.4,537 L651.4,537 L653.4,537 L655.4,537 L657.4,537 L659.4,537 L661.4,537 L663.4,537 L665,537" fill="none" stroke="#4f4f4f" stroke-width="2" stroke-linejoin="round"/>
<path d="M127.4,917.67 L129.4,916.48 L131.4,915.27 L133.4,914.05 L135.4,912.81 L137.4,911.54 L139.4,910.23 L141.4,908.89 L143.4,907.49 L145.4,906.05 L147.4,904.55 L149.4,903.01 L151.4,901.42 L153.4,899.79 L155.4,898.12 L157.4,896.42 L159.4,894.69 L161.4,892.94 L163.4,891.17 L165.4,889.38 L167.4,887.56 L169.4,885.73 L171.4,883.88 L173.4,882 L175.4,880.1 L177.4,878.18 L179.4,876.21 L181.4,874.2 L183.4,872.15 L185.4,870.05 L187.4,867.91 L189.4,865.72 L191.4,863.5 L193.4,861.24 L195.4,858.94 L197.4,856.61 L199.4,854.25 L201.4,851.85 L203.4,849.41 L205.4,846.94 L207.4,844.43 L209.4,841.89 L211.4,839.31 L213.4,836.71 L215.4,834.09 L217.4,831.45 L219.4,828.81 L221.4,826.17 L223.4,823.54 L225.4,820.92 L227.4,818.32 L229.4,815.76 L231.4,813.23 L233.4,810.75 L235.4,808.3 L237.4,805.88 L239.4,803.48 L241.4,801.09 L243.4,798.69 L245.4,796.28 L247.4,793.86 L249.4,791.41 L251.4,788.94 L253.4,786.44 L255.4,783.93 L257.4,781.41 L259.4,778.87 L261.4,776.33 L263.4,773.77 L265.4,771.21 L267.4,768.66 L269.4,766.11 L271.4,763.57 L273.4,761.04 L275.4,758.53 L277.4,756.05 L279.4,753.58 L281.4,751.13 L283.4,748.7 L285.4,746.3 L287.4,743.92 L289.4,741.56 L291.4,739.23 L293.4,736.92 L295.4,734.64 L297.4,732.39 L299.4,730.16 L301.4,727.96 L303.4,725.78 L305.4,723.61 L307.4,721.45 L309.4,719.29 L311.4,717.13 L313.4,714.96 L315.4,712.78 L317.4,710.59 L319.4,708.39 L321.4,706.17 L323.4,703.93 L325.4,701.68 L327.4,699.42 L329.4,697.15 L331.4,694.87 L333.4,692.6 L335.4,690.33 L337.4,688.09 L339.4,685.87 L341.4,683.67 L343.4,681.51 L345.4,679.38 L347.4,677.28 L349.4,675.19 L351.4,673.12 L353.4,671.06 L355.4,669.01 L357.4,666.96 L359.4,664.91 L361.4,662.86 L363.4,660.81 L365.4,658.77 L367.4,656.73 L369.4,654.7 L371.4,652.68 L373.4,650.68 L375.4,648.68 L377.4,646.7 L379.4,644.74 L381.4,642.79 L383.4,640.86 L385.4,638.95 L387.4,637.06 L389.4,635.18 L391.4,633.32 L393.4,631.47 L395.4,629.64 L397.4,627.82 L399.4,626.01 L401.4,624.21 L403.4,622.43 L405.4,620.65 L407.4,618.89 L409.4,617.15 L411.4,615.43 L413.4,613.73 L415.4,612.06 L417.4,610.4 L419.4,608.77 L421.4,607.15 L423.4,605.54 L425.4,603.95 L427.4,602.37 L429.4,600.81 L431.4,599.25 L433.4,597.7 L435.4,596.17 L437.4,594.66 L439.4,593.16 L441.4,591.68 L443.4,590.21 L445.4,588.76 L447.4,587.32 L449.4,585.89 L451.4,584.48 L453.4,583.07 L455.4,581.67 L457.4,580.29 L459.4,578.91 L461.4,577.54 L463.4,576.18 L465.4,574.83 L467.4,573.5 L469.4,572.19 L471.4,570.89 L473.4,569.61 L475.4,568.34 L477.4,567.1 L479.4,565.87 L481.4,564.66 L483.4,563.48 L485.4,562.32 L487.4,561.19 L489.4,560.08 L491.4,559.01 L493.4,557.98 L495.4,556.99 L497.4,556.03 L499.4,555.12 L501.4,554.25 L503.4,553.41 L505.4,552.62 L507.4,551.86 L509.4,551.12 L511.4,550.42 L513.4,549.74 L515.4,549.08 L517.4,548.44 L519.4,547.81 L521.4,547.2 L523.4,546.6 L525.4,546.02 L527.4,545.45 L529.4,544.89 L531.4,544.34 L533.4,543.82 L535.4,543.31 L537.4,542.82 L539.4,542.35 L541.4,541.91 L543.4,541.48 L545.4,541.08 L547.4,540.69 L549.4,540.33 L551.4,539.99 L553.4,539.68 L555.4,539.39 L557.4,539.12 L559.4,538.87 L561.4,538.65 L563.4,538.45 L565.4,538.26 L567.4,538.1 L569.4,537.95 L571.4,537.82 L573.4,537.7 L575.4,537.59 L577.4,537.5 L579.4,537.42 L581.4,537.34 L583.4,537.28 L585.4,537.23 L587.4,537.19 L589.4,537.15 L591.4,537.11 L593.4,537.09 L595.4,537.06 L597.4,537.05 L599.4,537.03 L601.4,537.02 L603.4,537.01 L605.4,537.01 L607.4,537.01 L609.4,537 L611.4,537 L613.4,537 L615.4,537 L617.4,537 L619.4,537 L621.4,537 L623.4,537 L625.4,537 L627.4,537 L629.4,537 L631.4,537 L633.4,537 L635.4,537 L637.4,537 L639.4,537 L641.4,537 L643.4,537 L645.4,537 L647.4,537 L649.4,537 L651.4,537 L653.4,537 L655.4,537 L657.4,537 L659.4,537 L661.4,537 L663.4,537 L665,537" fill="none" stroke="#0000ff" stroke-width="2" stroke-linejoin="round"/>
<path d="M127.4,725.1 L129.4,724.05 L131.4,723.03 L133.4,722.06 L135.4,721.16 L137.4,720.32 L139.4,719.55 L141.4,718.86 L143.4,718.24 L145.4,717.69 L147.4,717.21 L149.4,716.79 L151.4,716.42 L153.4,716.09 L155.4,715.78 L157.4,715.51 L159.4,715.24 L161.4,714.98 L163.4,714.71 L165.4,714.43 L167.4,714.14 L169.4,713.81 L171.4,713.45 L173.4,713.03 L175.4,712.56 L177.4,712.01 L179.4,711.4 L181.4,710.7 L183.4,709.92 L185.4,709.06 L187.4,708.12 L189.4,707.1 L191.4,706.03 L193.4,704.9 L195.4,703.72 L197.4,702.5 L199.4,701.25 L201.4,699.99 L203.4,698.7 L205.4,697.39 L207.4,696.05 L209.4,694.69 L211.4,693.28 L213.4,691.83 L215.4,690.3 L217.4,688.69 L219.4,687.01 L221.4,685.24 L223.4,683.41 L225.4,681.52 L227.4,679.58 L229.4,677.6 L231.4,675.58 L233.4,673.51 L235.4,671.4 L237.4,669.23 L239.4,667 L241.4,664.7 L243.4,662.34 L245.4,659.93 L247.4,657.48 L249.4,655 L251.4,652.52 L253.4,650.05 L255.4,647.6 L257.4,645.17 L259.4,642.74 L261.4,640.32 L263.4,637.89 L265.4,635.45 L267.4,632.99 L269.4,630.54 L271.4,628.1 L273.4,625.7 L275.4,623.33 L277.4,621.02 L279.4,618.77 L281.4,616.59 L283.4,614.47 L285.4,612.41 L287.4,610.38 L289.4,608.37 L291.4,606.37 L293.4,604.39 L295.4,602.42 L297.4,600.49 L299.4,598.59 L301.4,596.74 L303.4,594.93 L305.4,593.17 L307.4,591.45 L309.4,589.78 L311.4,588.16 L313.4,586.58 L315.4,585.04 L317.4,583.56 L319.4,582.12 L321.4,580.73 L323.4,579.39 L325.4,578.09 L327.4,576.83 L329.4,575.61 L331.4,574.4 L333.4,573.2 L335.4,572.01 L337.4,570.83 L339.4,569.65 L341.4,568.48 L343.4,567.34 L345.4,566.22 L347.4,565.13 L349.4,564.08 L351.4,563.08 L353.4,562.11 L355.4,561.18 L357.4,560.29 L359.4,559.42 L361.4,558.58 L363.4,557.77 L365.4,557 L367.4,556.27 L369.4,555.59 L371.4,554.94 L373.4,554.34 L375.4,553.77 L377.4,553.22 L379.4,552.7 L381.4,552.18 L383.4,551.67 L385.4,551.15 L387.4,550.62 L389.4,550.09 L391.4,549.55 L393.4,549.01 L395.4,548.48 L397.4,547.97 L399.4,547.48 L401.4,547.02 L403.4,546.58 L405.4,546.16 L407.4,545.76 L409.4,545.38 L411.4,545.01 L413.4,544.66 L415.4,544.33 L417.4,544.02 L419.4,543.74 L421.4,543.48 L423.4,543.23 L425.4,543.01 L427.4,542.8 L429.4,542.61 L431.4,542.43 L433.4,542.26 L435.4,542.1 L437.4,541.94 L439.4,541.8 L441.4,541.66 L443.4,541.53 L445.4,541.4 L447.4,541.28 L449.4,541.17 L451.4,541.06 L453.4,540.95 L455.4,540.85 L457.4,540.75 L459.4,540.66 L461.4,540.56 L463.4,540.47 L465.4,540.37 L467.4,540.28 L469.4,540.18 L471.4,540.09 L473.4,540 L475.4,539.91 L477.4,539.82 L479.4,539.74 L481.4,539.67 L483.4,539.6 L485.4,539.53 L487.4,539.48 L489.4,539.43 L491.4,539.38 L493.4,539.34 L495.4,539.3 L497.4,539.26 L499.4,539.22 L501.4,539.18 L503.4,539.14 L505.4,539.1 L507.4,539.05 L509.4,539 L511.4,538.94 L513.4,538.87 L515.4,538.8 L517.4,538.72 L519.4,538.64 L521.4,538.55 L523.4,538.46 L525.4,538.37 L527.4,538.28 L529.4,538.19 L531.4,538.11 L533.4,538.03 L535.4,537.96 L537.4,537.89 L539.4,537.84 L541.4,537.78 L543.4,537.74 L545.4,537.69 L547.4,537.65 L549.4,537.61 L551.4,537.58 L553.4,537.54 L555.4,537.51 L557.4,537.47 L559.4,537.44 L561.4,537.41 L563.4,537.38 L565.4,537.36 L567.4,537.33 L569.4,537.31 L571.4,537.29 L573.4,537.26 L575.4,537.25 L577.4,537.23 L579.4,537.21 L581.4,537.19 L583.4,537.18 L585.4,537.16 L587.4,537.15 L589.4,537.13 L591.4,537.12 L593.4,537.11 L595.4,537.09 L597.4,537.08 L599.4,537.07 L601.4,537.06 L603.4,537.05 L605.4,537.04 L607.4,537.03 L609.4,537.02 L611.4,537.02 L613.4,537.01 L615.4,537.01 L617.4,537 L619.4,537 L621.4,537 L623.4,537 L625.4,537 L627.4,537 L629.4,537 L631.4,537 L633.4,537 L635.4,537 L637.4,537 L639.4,537 L641.4,537 L643.4,537 L645.4,537 L647.4,537 L649.4,537 L651.4,537 L653.4,537 L655.4,537 L657.4,537 L659.4,537 L661.4,537 L663.4,537 L665,537" fill="none" stroke="#ff0000" stroke-width="2" stroke-linejoin="round"/>
<path d="M127.4,950.59 L129.4,950.51 L131.4,950.42 L133.4,950.33 L135.4,950.23 L137.4,950.12 L139.4,949.99 L141.4,949.85 L143.4,949.69 L145.4,949.51 L147.4,949.3 L149.4,949.08 L151.4,948.84 L153.4,948.58 L155.4,948.3 L157.4,948.02 L159.4,947.73 L161.4,947.44 L163.4,947.14 L165.4,946.84 L167.4,946.54 L169.4,946.24 L171.4,945.92 L173.4,945.6 L175.4,945.27 L177.4,944.92 L179.4,944.55 L181.4,944.15 L183.4,943.74 L185.4,943.29 L187.4,942.83 L189.4,942.33 L191.4,941.81 L193.4,941.26 L195.4,940.68 L197.4,940.06 L199.4,939.41 L201.4,938.73 L203.4,938.01 L205.4,937.25 L207.4,936.46 L209.4,935.62 L211.4,934.75 L213.4,933.82 L215.4,932.85 L217.4,931.82 L219.4,930.73 L221.4,929.59 L223.4,928.38 L225.4,927.12 L227.4,925.8 L229.4,924.44 L231.4,923.02 L233.4,921.56 L235.4,920.06 L237.4,918.52 L239.4,916.94 L241.4,915.32 L243.4,913.65 L245.4,911.95 L247.4,910.19 L249.4,908.38 L251.4,906.52 L253.4,904.59 L255.4,902.61 L257.4,900.58 L259.4,898.5 L261.4,896.36 L263.4,894.19 L265.4,891.98 L267.4,889.73 L269.4,887.46 L271.4,885.16 L273.4,882.84 L275.4,880.5 L277.4,878.14 L279.4,875.75 L281.4,873.34 L283.4,870.91 L285.4,868.45 L287.4,865.97 L289.4,863.47 L291.4,860.95 L293.4,858.42 L295.4,855.87 L297.4,853.32 L299.4,850.76 L301.4,848.2 L303.4,845.64 L305.4,843.06 L307.4,840.48 L309.4,837.89 L311.4,835.29 L313.4,832.68 L315.4,830.06 L317.4,827.43 L319.4,824.8 L321.4,822.16 L323.4,819.52 L325.4,816.88 L327.4,814.23 L329.4,811.57 L331.4,808.89 L333.4,806.2 L335.4,803.48 L337.4,800.75 L339.4,797.99 L341.4,795.22 L343.4,792.42 L345.4,789.62 L347.4,786.82 L349.4,784.02 L351.4,781.22 L353.4,778.44 L355.4,775.68 L357.4,772.93 L359.4,770.21 L361.4,767.5 L363.4,764.83 L365.4,762.17 L367.4,759.54 L369.4,756.93 L371.4,754.34 L373.4,751.76 L375.4,749.18 L377.4,746.61 L379.4,744.03 L381.4,741.44 L383.4,738.82 L385.4,736.18 L387.4,733.51 L389.4,730.81 L391.4,728.07 L393.4,725.31 L395.4,722.52 L397.4,719.72 L399.4,716.92 L401.4,714.13 L403.4,711.35 L405.4,708.59 L407.4,705.85 L409.4,703.13 L411.4,700.41 L413.4,697.71 L415.4,695.01 L417.4,692.3 L419.4,689.6 L421.4,686.88 L423.4,684.16 L425.4,681.42 L427.4,678.68 L429.4,675.93 L431.4,673.16 L433.4,670.39 L435.4,667.61 L437.4,664.83 L439.4,662.04 L441.4,659.25 L443.4,656.46 L445.4,653.68 L447.4,650.91 L449.4,648.14 L451.4,645.4 L453.4,642.67 L455.4,639.97 L457.4,637.29 L459.4,634.63 L461.4,631.99 L463.4,629.38 L465.4,626.78 L467.4,624.19 L469.4,621.63 L471.4,619.07 L473.4,616.53 L475.4,614 L477.4,611.47 L479.4,608.94 L481.4,606.4 L483.4,603.85 L485.4,601.29 L487.4,598.71 L489.4,596.13 L491.4,593.57 L493.4,591.03 L495.4,588.53 L497.4,586.08 L499.4,583.7 L501.4,581.39 L503.4,579.15 L505.4,576.97 L507.4,574.85 L509.4,572.79 L511.4,570.78 L513.4,568.82 L515.4,566.91 L517.4,565.05 L519.4,563.24 L521.4,561.49 L523.4,559.8 L525.4,558.18 L527.4,556.63 L529.4,555.15 L531.4,553.75 L533.4,552.42 L535.4,551.17 L537.4,549.98 L539.4,548.86 L541.4,547.8 L543.4,546.8 L545.4,545.85 L547.4,544.96 L549.4,544.12 L551.4,543.33 L553.4,542.6 L555.4,541.92 L557.4,541.29 L559.4,540.73 L561.4,540.21 L563.4,539.76 L565.4,539.35 L567.4,538.99 L569.4,538.68 L571.4,538.4 L573.4,538.17 L575.4,537.96 L577.4,537.79 L579.4,537.64 L581.4,537.52 L583.4,537.42 L585.4,537.33 L587.4,537.26 L589.4,537.2 L591.4,537.15 L593.4,537.12 L595.4,537.08 L597.4,537.06 L599.4,537.04 L601.4,537.03 L603.4,537.02 L605.4,537.01 L607.4,537.01 L609.4,537 L611.4,537 L613.4,537 L615.4,537 L617.4,537 L619.4,537 L621.4,537 L623.4,537 L625.4,537 L627.4,537 L629.4,537 L631.4,537 L633.4,537 L635.4,537 L637.4,537 L639.4,537 L641.4,537 L643.4,537 L645.4,537 L647.4,537 L649.4,537 L651.4,537 L653.4,537 L655.4,537 L657.4,537 L659.4,537 L661.4,537 L663.4,537 L665,537" fill="none" stroke="#33a966" stroke-width="2" stroke-linejoin="round"/>
<path d="M956.8,261.02 L958.8,260.55 L960.8,260.08 L962.8,259.61 L964.8,259.14 L966.8,258.68 L968.8,258.21 L970.8,257.75 L972.8,257.3 L974.8,256.84 L976.8,256.39 L978.8,255.94 L980.8,255.5 L982.8,255.06 L984.8,254.62 L986.8,254.19 L988.8,253.76 L990.8,253.33 L992.8,252.91 L994.8,252.49 L996.8,252.08 L998.8,251.67 L1000.8,251.26 L1002.8,250.85 L1004.8,250.45 L1006.8,250.05 L1008.8,249.65 L1010.8,249.25 L1012.8,248.85 L1014.8,248.45 L1016.8,248.05 L1018.8,247.65 L1020.8,247.24 L1022.8,246.84 L1024.8,246.43 L1026.8,246.02 L1028.8,245.61 L1030.8,245.2 L1032.8,244.78 L1034.8,244.36 L1036.8,243.93 L1038.8,243.51 L1040.8,243.07 L1042.8,242.64 L1044.8,242.2 L1046.8,241.76 L1048.8,241.31 L1050.8,240.87 L1052.8,240.42 L1054.8,239.97 L1056.8,239.52 L1058.8,239.07 L1060.8,238.62 L1062.8,238.17 L1064.8,237.72 L1066.8,237.27 L1068.8,236.83 L1070.8,236.39 L1072.8,235.95 L1074.8,235.52 L1076.8,235.08 L1078.8,234.66 L1080.8,234.23 L1082.8,233.82 L1084.8,233.4 L1086.8,232.99 L1088.8,232.59 L1090.8,232.19 L1092.8,231.79 L1094.8,231.39 L1096.8,231 L1098.8,230.62 L1100.8,230.24 L1102.8,229.86 L1104.8,229.48 L1106.8,229.11 L1108.8,228.73 L1110.8,228.36 L1112.8,228 L1114.8,227.63 L1116.8,227.27 L1118.8,226.91 L1120.8,226.55 L1122.8,226.19 L1124.8,225.83 L1126.8,225.47 L1128.8,225.11 L1130.8,224.75 L1132.8,224.4 L1134.8,224.04 L1136.8,223.69 L1138.8,223.33 L1140.8,222.98 L1142.8,222.62 L1144.8,222.27 L1146.8,221.92 L1148.8,221.58 L1150.8,221.23 L1152.8,220.89 L1154.8,220.55 L1156.8,220.22 L1158.8,219.89 L1160.8,219.57 L1162.8,219.25 L1164.8,218.95 L1166.8,218.64 L1168.8,218.35 L1170.8,218.06 L1172.8,217.78 L1174.8,217.51 L1176.8,217.24 L1178.8,216.99 L1180.8,216.74 L1182.8,216.5 L1184.8,216.26 L1186.8,216.04 L1188.8,215.82 L1190.8,215.6 L1192.8,215.39 L1194.8,215.19 L1196.8,215 L1198.8,214.81 L1200.8,214.62 L1202.8,214.44 L1204.8,214.27 L1206.8,214.1 L1208.8,213.94 L1210.8,213.78 L1212.8,213.63 L1214.8,213.48 L1216.8,213.34 L1218.8,213.2 L1220.8,213.07 L1222.8,212.94 L1224.8,212.82 L1226.8,212.71 L1228.8,212.6 L1230.8,212.49 L1232.8,212.39 L1234.8,212.29 L1236.8,212.2 L1238.8,212.11 L1240.8,212.02 L1242.8,211.94 L1244.8,211.86 L1246.8,211.79 L1248.8,211.72 L1250.8,211.65 L1252.8,211.59 L1254.8,211.52 L1256.8,211.46 L1257.5,211.44" fill="none" stroke="#4f4f4f" stroke-width="2" stroke-linejoin="round"/>
<path d="M956.6,152.9 L958.6,152.9 L960.6,152.91 L962.6,152.91 L964.6,152.91 L966.6,152.92 L968.6,152.92 L970.6,152.93 L972.6,152.95 L974.6,152.96 L976.6,152.99 L978.6,153.02 L980.6,153.05 L982.6,153.1 L984.6,153.15 L986.6,153.22 L988.6,153.29 L990.6,153.38 L992.6,153.49 L994.6,153.61 L996.6,153.75 L998.6,153.9 L1000.6,154.07 L1002.6,154.25 L1004.6,154.45 L1006.6,154.67 L1008.6,154.9 L1010.6,155.14 L1012.6,155.4 L1014.6,155.66 L1016.6,155.94 L1018.6,156.22 L1020.6,156.51 L1022.6,156.81 L1024.6,157.1 L1026.6,157.41 L1028.6,157.71 L1030.6,158.02 L1032.6,158.33 L1034.6,158.64 L1036.6,158.95 L1038.6,159.27 L1040.6,159.58 L1042.6,159.89 L1044.6,160.21 L1046.6,160.53 L1048.6,160.84 L1050.6,161.16 L1052.6,161.49 L1054.6,161.81 L1056.6,162.13 L1058.6,162.46 L1060.6,162.79 L1062.6,163.13 L1064.6,163.46 L1066.6,163.8 L1068.6,164.13 L1070.6,164.47 L1072.6,164.82 L1074.6,165.16 L1076.6,165.51 L1078.6,165.85 L1080.6,166.2 L1082.6,166.55 L1084.6,166.9 L1086.6,167.26 L1088.6,167.61 L1090.6,167.97 L1092.6,168.32 L1094.6,168.68 L1096.6,169.04 L1098.6,169.41 L1100.6,169.77 L1102.6,170.14 L1104.6,170.5 L1106.6,170.87 L1108.6,171.24 L1110.6,171.61 L1112.6,171.99 L1114.6,172.36 L1116.6,172.74 L1118.6,173.11 L1120.6,173.49 L1122.6,173.87 L1124.6,174.25 L1126.6,174.63 L1128.6,175.01 L1130.6,175.4 L1132.6,175.78 L1134.6,176.17 L1136.6,176.55 L1138.6,176.94 L1140.6,177.33 L1142.6,177.72 L1144.6,178.11 L1146.6,178.5 L1148.6,178.89 L1150.6,179.29 L1152.6,179.69 L1154.6,180.08 L1156.6,180.48 L1158.6,180.88 L1160.6,181.29 L1162.6,181.69 L1164.6,182.09 L1166.6,182.5 L1168.6,182.91 L1170.6,183.32 L1172.6,183.73 L1174.6,184.15 L1176.6,184.56 L1178.6,184.98 L1180.6,185.4 L1182.6,185.82 L1184.6,186.24 L1186.6,186.66 L1188.6,187.09 L1190.6,187.51 L1192.6,187.94 L1194.6,188.37 L1196.6,188.81 L1198.6,189.24 L1200.6,189.68 L1202.6,190.13 L1204.6,190.58 L1206.6,191.03 L1208.6,191.48 L1210.6,191.94 L1212.6,192.41 L1214.6,192.88 L1216.6,193.36 L1218.6,193.84 L1220.6,194.33 L1222.6,194.83 L1224.6,195.33 L1226.6,195.84 L1228.6,196.36 L1230.6,196.88 L1232.6,197.41 L1234.6,197.96 L1236.6,198.5 L1238.6,199.06 L1240.6,199.62 L1242.6,200.19 L1244.6,200.77 L1246.6,201.35 L1248.6,201.94 L1250.6,202.54 L1252.6,203.14 L1254.6,203.75 L1256.6,204.36 L1258.6,204.97 L1260.6,205.59 L1262.6,206.22 L1264.6,206.84 L1266.6,207.47 L1268.6,208.11 L1270.6,208.74 L1272.6,209.38 L1274.6,210.02 L1276.6,210.67 L1278.6,211.32 L1280.6,211.97 L1282.6,212.63 L1284.6,213.3 L1286.6,213.97 L1288.6,214.65 L1290.6,215.34 L1292.6,216.04 L1294.6,216.75 L1296.6,217.47 L1298.6,218.21 L1300.6,218.96 L1302.6,219.73 L1304.6,220.52 L1306.6,221.33 L1308.6,222.15 L1310.6,223 L1312.6,223.86 L1314.6,224.75 L1316.6,225.65 L1318.6,226.58 L1320.6,227.52 L1322.6,228.48 L1324.6,229.46 L1326.6,230.46 L1328.6,231.48 L1330.6,232.51 L1332.6,233.56 L1334.6,234.62 L1336.6,235.7 L1338.6,236.79 L1340.6,237.9 L1342.6,239.02 L1344.6,240.15 L1346.6,241.3 L1348.6,242.46 L1350.6,243.63 L1352.6,244.82 L1354.6,246.02 L1356.6,247.24 L1358.6,248.47 L1360.6,249.71 L1362.6,250.96 L1364.6,252.23 L1366.6,253.52 L1368.6,254.81 L1370.6,256.12 L1372.6,257.45 L1374.6,258.78 L1376.6,260.13 L1378.6,261.49 L1380.6,262.86 L1382.6,264.24 L1384.6,265.62 L1386.6,267.02 L1388.6,268.41 L1390.6,269.82 L1392.6,271.22 L1394.6,272.63 L1396.6,274.04 L1398.6,275.45 L1400.6,276.85 L1402.6,278.25 L1404.6,279.64 L1406.6,281.03 L1408.6,282.41 L1410.6,283.79 L1412.6,285.16 L1414.6,286.52 L1416.6,287.87 L1418.6,289.22 L1420.6,290.56 L1421.8,291.9" fill="none" stroke="#0000ff" stroke-width="2" stroke-linejoin="round"/>
<path d="M956.6,112.02 L958.6,112.04 L960.6,112.07 L962.6,112.09 L964.6,112.12 L966.6,112.15 L968.6,112.18 L970.6,112.21 L972.6,112.24 L974.6,112.28 L976.6,112.32 L978.6,112.35 L980.6,112.4 L982.6,112.44 L984.6,112.48 L986.6,112.53 L988.6,112.57 L990.6,112.62 L992.6,112.67 L994.6,112.73 L996.6,112.78 L998.6,112.83 L1000.6,112.89 L1002.6,112.95 L1004.6,113.01 L1006.6,113.07 L1008.6,113.14 L1010.6,113.2 L1012.6,113.27 L1014.6,113.34 L1016.6,113.41 L1018.6,113.49 L1020.6,113.56 L1022.6,113.64 L1024.6,113.72 L1026.6,113.81 L1028.6,113.9 L1030.6,113.99 L1032.6,114.08 L1034.6,114.18 L1036.6,114.28 L1038.6,114.38 L1040.6,114.49 L1042.6,114.6 L1044.6,114.71 L1046.6,114.83 L1048.6,114.95 L1050.6,115.07 L1052.6,115.2 L1054.6,115.33 L1056.6,115.46 L1058.6,115.6 L1060.6,115.74 L1062.6,115.89 L1064.6,116.04 L1066.6,116.2 L1068.6,116.36 L1070.6,116.53 L1072.6,116.7 L1074.6,116.88 L1076.6,117.06 L1078.6,117.24 L1080.6,117.43 L1082.6,117.63 L1084.6,117.83 L1086.6,118.03 L1088.6,118.24 L1090.6,118.45 L1092.6,118.67 L1094.6,118.89 L1096.6,119.11 L1098.6,119.34 L1100.6,119.57 L1102.6,119.8 L1104.6,120.04 L1106.6,120.28 L1108.6,120.53 L1110.6,120.77 L1112.6,121.03 L1114.6,121.28 L1116.6,121.54 L1118.6,121.81 L1120.6,122.07 L1122.6,122.35 L1124.6,122.62 L1126.6,122.91 L1128.6,123.19 L1130.6,123.49 L1132.6,123.78 L1134.6,124.09 L1136.6,124.4 L1138.6,124.71 L1140.6,125.04 L1142.6,125.37 L1144.6,125.7 L1146.6,126.05 L1148.6,126.4 L1150.6,126.76 L1152.6,127.13 L1154.6,127.5 L1156.6,127.89 L1158.6,128.28 L1160.6,128.69 L1162.6,129.1 L1164.6,129.53 L1166.6,129.96 L1168.6,130.4 L1170.6,130.85 L1172.6,131.32 L1174.6,131.79 L1176.6,132.27 L1178.6,132.76 L1180.6,133.26 L1182.6,133.77 L1184.6,134.29 L1186.6,134.83 L1188.6,135.36 L1190.6,135.91 L1192.6,136.47 L1194.6,137.04 L1196.6,137.62 L1198.6,138.21 L1200.6,138.8 L1202.6,139.41 L1204.6,140.03 L1206.6,140.66 L1208.6,141.3 L1210.6,141.95 L1212.6,142.61 L1214.6,143.29 L1216.6,143.97 L1218.6,144.67 L1220.6,145.37 L1222.6,146.09 L1224.6,146.82 L1226.6,147.56 L1228.6,148.3 L1230.6,149.06 L1232.6,149.83 L1234.6,150.61 L1236.6,151.39 L1238.6,152.19 L1240.6,152.99 L1242.6,153.81 L1244.6,154.63 L1246.6,155.45 L1248.6,156.29 L1250.6,157.14 L1252.6,157.99 L1254.6,158.85 L1256.6,159.72 L1258.6,160.6 L1260.6,161.49 L1262.6,162.38 L1264.6,163.29 L1266.6,164.2 L1268.6,165.12 L1270.6,166.04 L1272.6,166.97 L1274.6,167.91 L1276.6,168.86 L1278.6,169.81 L1280.6,170.76 L1282.6,171.72 L1284.6,172.68 L1286.6,173.65 L1288.6,174.62 L1289.7,175.59" fill="none" stroke="#ff0000" stroke-width="2" stroke-linejoin="round"/>
<path d="M956.4,250.58 L958.4,251.72 L960.4,252.85 L962.4,253.99 L964.4,255.12 L966.4,256.25 L968.4,257.38 L970.4,258.51 L972.4,259.63 L974.4,260.76 L976.4,261.88 L978.4,263 L980.4,264.12 L982.4,265.24 L984.4,266.36 L986.4,267.48 L988.4,268.59 L990.4,269.7 L992.4,270.81 L994.4,271.92 L996.4,273.03 L998.4,274.14 L1000.4,275.24 L1002.4,276.34 L1004.4,277.43 L1006.4,278.52 L1008.4,279.61 L1010.4,280.69 L1012.4,281.77 L1014.4,282.84 L1016.4,283.91 L1018.4,284.96 L1020.4,286.02 L1022.4,287.06 L1024.4,288.1 L1026.4,289.14 L1028.4,290.16 L1030.4,291.19 L1032.4,292.2 L1034.4,293.22 L1036.4,294.23 L1038.4,295.23 L1040.4,296.24 L1042.4,297.24 L1044.4,298.24 L1046.4,299.24 L1048.4,300.24 L1050.4,301.23 L1052.4,302.23 L1054.4,303.23 L1056.4,304.22 L1058.4,305.22 L1060.4,306.21 L1062.4,307.2 L1064.4,308.19 L1066.4,309.18 L1068.4,310.16 L1070.4,311.14 L1072.4,312.11 L1074.4,313.08 L1076.4,314.05 L1078.4,315.01 L1080.4,315.96 L1082.4,316.91 L1084.4,317.85 L1086.4,318.78 L1088.4,319.71 L1090.4,320.63 L1092.4,321.55 L1094.4,322.46 L1096.4,323.37 L1098.4,324.27 L1100.4,325.17 L1102.4,326.06 L1104.4,326.94 L1106.4,327.82 L1108.4,328.69 L1110.4,329.55 L1112.4,330.4 L1114.4,331.24 L1116.4,332.07 L1118.4,332.89 L1120.4,333.7 L1122.4,334.49 L1124.4,335.28 L1126.4,336.05 L1128.4,336.81 L1130.4,337.56 L1132.4,338.31 L1134.4,339.04 L1136.4,339.77 L1138.4,340.49 L1140.4,341.2 L1142.4,341.9 L1144.4,342.6 L1146.4,343.3 L1148.4,343.99 L1150.4,344.67 L1152.4,345.35 L1154.4,346.02 L1156.4,346.68 L1158.4,347.34 L1160.4,347.99 L1162.4,348.64 L1164.4,349.28 L1166.4,349.91 L1168.4,350.53 L1170.4,351.15 L1172.4,351.77 L1174.4,352.37 L1176.4,352.98 L1178.4,353.58 L1180.4,354.17 L1182.4,354.77 L1184.4,355.36 L1186.4,355.95 L1188.4,356.54 L1190.4,357.13 L1192.4,357.72 L1194.4,358.31 L1196.4,358.9 L1198.4,359.49 L1200.4,360.08 L1202.4,360.67 L1204.4,361.26 L1206.4,361.86 L1208.4,362.45 L1210.4,363.05 L1212.4,363.64 L1214.4,364.23 L1216.4,364.82 L1218.4,365.41 L1220.4,365.99 L1222.4,366.56 L1224.4,367.13 L1226.4,367.7 L1228.4,368.25 L1230.4,368.8 L1232.4,369.33 L1234.4,369.86 L1236.4,370.37 L1238.4,370.88 L1240.4,371.37 L1242.4,371.85 L1244.4,372.32 L1246.4,372.78 L1248.4,373.24 L1250.4,373.68 L1252.4,374.11 L1254.4,374.54 L1256.4,374.96 L1258.4,375.38 L1260.4,375.78 L1262.4,376.19 L1264.4,376.59 L1266.4,376.99 L1268.4,377.38 L1270.4,377.78 L1272.4,378.17 L1274.4,378.56 L1276.4,378.96 L1278.4,379.35 L1280.4,379.74 L1282.4,380.14 L1284.4,380.53 L1286.4,380.93 L1288.4,381.32 L1290.4,381.72 L1292.4,382.11 L1294.4,382.51 L1296.4,382.9 L1298.4,383.3 L1300.4,383.69 L1302.4,384.09 L1304.4,384.48 L1306.4,384.86 L1308.4,385.25 L1310.4,385.64 L1312.4,386.02 L1314.4,386.4 L1316.4,386.77 L1318.4,387.15 L1320.4,387.52 L1322.4,387.89 L1324.4,388.25 L1326.4,388.62 L1328.4,388.98 L1330.4,389.34 L1332.4,389.69 L1334.4,390.05 L1336.4,390.4 L1338.4,390.76 L1340.4,391.11 L1342.4,391.47 L1344.4,391.82 L1346.4,392.18 L1348.4,392.53 L1350.4,392.89 L1352.4,393.25 L1354.4,393.61 L1356.4,393.98 L1358.4,394.35 L1360.4,394.72 L1362.4,395.09 L1364.4,395.47 L1366.4,395.85 L1368.4,396.23 L1370.4,396.61 L1372.4,397 L1374.4,397.39 L1376.4,397.78 L1378.4,398.18 L1380.4,398.57 L1382.4,398.97 L1384.4,399.37 L1386.4,399.77 L1388.4,400.17 L1390.4,400.57 L1392.4,400.98 L1394.4,401.38 L1396.4,401.79 L1396.7,401.99" fill="none" stroke="#33a966" stroke-width="2" stroke-linejoin="round"/>
<path d="M956.8,748.83 L958.8,749.2 L960.8,749.57 L962.8,749.94 L964.8,750.32 L966.8,750.69 L968.8,751.07 L970.8,751.46 L972.8,751.84 L974.8,752.23 L976.8,752.63 L978.8,753.02 L980.8,753.43 L982.8,753.83 L984.8,754.24 L986.8,754.66 L988.8,755.07 L990.8,755.5 L992.8,755.93 L994.8,756.36 L996.8,756.79 L998.8,757.23 L1000.8,757.68 L1002.8,758.12 L1004.8,758.57 L1006.8,759.02 L1008.8,759.48 L1010.8,759.93 L1012.8,760.39 L1014.8,760.84 L1016.8,761.3 L1018.8,761.75 L1020.8,762.21 L1022.8,762.66 L1024.8,763.11 L1026.8,763.56 L1028.8,764 L1030.8,764.44 L1032.8,764.88 L1034.8,765.32 L1036.8,765.75 L1038.8,766.18 L1040.8,766.6 L1042.8,767.02 L1044.8,767.44 L1046.8,767.86 L1048.8,768.27 L1050.8,768.68 L1052.8,769.09 L1054.8,769.5 L1056.8,769.9 L1058.8,770.3 L1060.8,770.7 L1062.8,771.1 L1064.8,771.5 L1066.8,771.89 L1068.8,772.29 L1070.8,772.68 L1072.8,773.07 L1074.8,773.46 L1076.8,773.86 L1078.8,774.25 L1080.8,774.64 L1082.8,775.03 L1084.8,775.42 L1086.8,775.8 L1088.8,776.19 L1090.8,776.58 L1092.8,776.97 L1094.8,777.36 L1096.8,777.74 L1098.8,778.13 L1100.8,778.51 L1102.8,778.89 L1104.8,779.28 L1106.8,779.66 L1108.8,780.04 L1110.8,780.42 L1112.8,780.79 L1114.8,781.17 L1116.8,781.54 L1118.8,781.91 L1120.8,782.28 L1122.8,782.64 L1124.8,783.01 L1126.8,783.37 L1128.8,783.73 L1130.8,784.09 L1132.8,784.45 L1134.8,784.8 L1136.8,785.15 L1138.8,785.5 L1140.8,785.85 L1142.8,786.19 L1144.8,786.54 L1146.8,786.88 L1148.8,787.21 L1150.8,787.55 L1152.8,787.88 L1154.8,788.21 L1156.8,788.53 L1158.8,788.85 L1160.8,789.17 L1162.8,789.48 L1164.8,789.78 L1166.8,790.08 L1168.8,790.38 L1170.8,790.67 L1172.8,790.95 L1174.8,791.23 L1176.8,791.51 L1178.8,791.77 L1180.8,792.04 L1182.8,792.3 L1184.8,792.55 L1186.8,792.8 L1188.8,793.04 L1190.8,793.28 L1192.8,793.51 L1194.8,793.74 L1196.8,793.97 L1198.8,794.18 L1200.8,794.4 L1202.8,794.61 L1204.8,794.81 L1206.8,795.01 L1208.8,795.2 L1210.8,795.38 L1212.8,795.56 L1214.8,795.74 L1216.8,795.9 L1218.8,796.06 L1220.8,796.22 L1222.8,796.37 L1224.8,796.51 L1226.8,796.64 L1228.8,796.77 L1230.8,796.89 L1232.8,797.01 L1234.8,797.12 L1236.8,797.23 L1238.8,797.33 L1240.8,797.42 L1242.8,797.51 L1244.8,797.59 L1246.8,797.68 L1248.8,797.75 L1250.8,797.83 L1252.8,797.89 L1254.8,797.96 L1256.8,798.02 L1257.5,798.06" fill="none" stroke="#4f4f4f" stroke-width="2" stroke-linejoin="round"/>
<path d="M956.6,857.47 L958.6,857.45 L960.6,857.43 L962.6,857.41 L964.6,857.38 L966.6,857.36 L968.6,857.33 L970.6,857.29 L972.6,857.26 L974.6,857.21 L976.6,857.17 L978.6,857.11 L980.6,857.05 L982.6,856.99 L984.6,856.92 L986.6,856.84 L988.6,856.75 L990.6,856.65 L992.6,856.55 L994.6,856.43 L996.6,856.31 L998.6,856.17 L1000.6,856.03 L1002.6,855.87 L1004.6,855.7 L1006.6,855.53 L1008.6,855.35 L1010.6,855.15 L1012.6,854.95 L1014.6,854.74 L1016.6,854.52 L1018.6,854.29 L1020.6,854.06 L1022.6,853.82 L1024.6,853.57 L1026.6,853.32 L1028.6,853.06 L1030.6,852.8 L1032.6,852.52 L1034.6,852.25 L1036.6,851.96 L1038.6,851.67 L1040.6,851.37 L1042.6,851.07 L1044.6,850.76 L1046.6,850.44 L1048.6,850.11 L1050.6,849.78 L1052.6,849.45 L1054.6,849.11 L1056.6,848.76 L1058.6,848.41 L1060.6,848.06 L1062.6,847.71 L1064.6,847.35 L1066.6,846.99 L1068.6,846.64 L1070.6,846.28 L1072.6,845.93 L1074.6,845.58 L1076.6,845.23 L1078.6,844.89 L1080.6,844.55 L1082.6,844.21 L1084.6,843.88 L1086.6,843.55 L1088.6,843.23 L1090.6,842.91 L1092.6,842.59 L1094.6,842.28 L1096.6,841.97 L1098.6,841.66 L1100.6,841.36 L1102.6,841.05 L1104.6,840.75 L1106.6,840.45 L1108.6,840.15 L1110.6,839.86 L1112.6,839.56 L1114.6,839.26 L1116.6,838.96 L1118.6,838.65 L1120.6,838.35 L1122.6,838.05 L1124.6,837.74 L1126.6,837.43 L1128.6,837.12 L1130.6,836.8 L1132.6,836.49 L1134.6,836.17 L1136.6,835.85 L1138.6,835.52 L1140.6,835.2 L1142.6,834.87 L1144.6,834.53 L1146.6,834.2 L1148.6,833.86 L1150.6,833.52 L1152.6,833.17 L1154.6,832.83 L1156.6,832.47 L1158.6,832.12 L1160.6,831.76 L1162.6,831.39 L1164.6,831.02 L1166.6,830.65 L1168.6,830.27 L1170.6,829.88 L1172.6,829.49 L1174.6,829.09 L1176.6,828.69 L1178.6,828.28 L1180.6,827.86 L1182.6,827.44 L1184.6,827.01 L1186.6,826.57 L1188.6,826.13 L1190.6,825.68 L1192.6,825.22 L1194.6,824.76 L1196.6,824.29 L1198.6,823.81 L1200.6,823.32 L1202.6,822.83 L1204.6,822.33 L1206.6,821.83 L1208.6,821.32 L1210.6,820.8 L1212.6,820.28 L1214.6,819.75 L1216.6,819.22 L1218.6,818.68 L1220.6,818.13 L1222.6,817.58 L1224.6,817.02 L1226.6,816.46 L1228.6,815.89 L1230.6,815.31 L1232.6,814.73 L1234.6,814.14 L1236.6,813.54 L1238.6,812.94 L1240.6,812.33 L1242.6,811.71 L1244.6,811.09 L1246.6,810.46 L1248.6,809.83 L1250.6,809.19 L1252.6,808.54 L1254.6,807.89 L1256.6,807.23 L1258.6,806.56 L1260.6,805.89 L1262.6,805.22 L1264.6,804.54 L1266.6,803.85 L1268.6,803.16 L1270.6,802.47 L1272.6,801.76 L1274.6,801.06 L1276.6,800.34 L1278.6,799.62 L1280.6,798.9 L1282.6,798.17 L1284.6,797.42 L1286.6,796.68 L1288.6,795.92 L1290.6,795.15 L1292.6,794.37 L1294.6,793.58 L1296.6,792.78 L1298.6,791.96 L1300.6,791.13 L1302.6,790.29 L1304.6,789.43 L1306.6,788.56 L1308.6,787.66 L1310.6,786.76 L1312.6,785.83 L1314.6,784.89 L1316.6,783.94 L1318.6,782.97 L1320.6,781.98 L1322.6,780.98 L1324.6,779.96 L1326.6,778.93 L1328.6,777.89 L1330.6,776.83 L1332.6,775.76 L1334.6,774.68 L1336.6,773.59 L1338.6,772.49 L1340.6,771.37 L1342.6,770.24 L1344.6,769.11 L1346.6,767.96 L1348.6,766.8 L1350.6,765.63 L1352.6,764.45 L1354.6,763.26 L1356.6,762.06 L1358.6,760.85 L1360.6,759.63 L1362.6,758.39 L1364.6,757.15 L1366.6,755.89 L1368.6,754.63 L1370.6,753.35 L1372.6,752.06 L1374.6,750.76 L1376.6,749.45 L1378.6,748.13 L1380.6,746.8 L1382.6,745.46 L1384.6,744.12 L1386.6,742.76 L1388.6,741.39 L1390.6,740.01 L1392.6,738.63 L1394.6,737.24 L1396.6,735.84 L1398.6,734.44 L1400.6,733.02 L1402.6,731.61 L1404.6,730.19 L1406.6,728.76 L1408.6,727.33 L1410.6,725.9 L1412.6,724.47 L1414.6,723.03 L1416.6,721.59 L1418.6,720.14 L1420.6,718.7 L1421.8,717.25" fill="none" stroke="#0000ff" stroke-width="2" stroke-linejoin="round"/>
<path d="M956.6,898.28 L958.6,898.24 L960.6,898.2 L962.6,898.16 L964.6,898.12 L966.6,898.08 L968.6,898.03 L970.6,897.98 L972.6,897.93 L974.6,897.88 L976.6,897.83 L978.6,897.77 L980.6,897.72 L982.6,897.66 L984.6,897.59 L986.6,897.53 L988.6,897.46 L990.6,897.4 L992.6,897.33 L994.6,897.25 L996.6,897.18 L998.6,897.1 L1000.6,897.02 L1002.6,896.94 L1004.6,896.86 L1006.6,896.77 L1008.6,896.69 L1010.6,896.6 L1012.6,896.5 L1014.6,896.41 L1016.6,896.31 L1018.6,896.21 L1020.6,896.1 L1022.6,895.99 L1024.6,895.88 L1026.6,895.77 L1028.6,895.65 L1030.6,895.53 L1032.6,895.4 L1034.6,895.28 L1036.6,895.15 L1038.6,895.02 L1040.6,894.88 L1042.6,894.75 L1044.6,894.61 L1046.6,894.47 L1048.6,894.33 L1050.6,894.18 L1052.6,894.04 L1054.6,893.89 L1056.6,893.75 L1058.6,893.6 L1060.6,893.45 L1062.6,893.3 L1064.6,893.15 L1066.6,892.99 L1068.6,892.84 L1070.6,892.68 L1072.6,892.53 L1074.6,892.37 L1076.6,892.21 L1078.6,892.04 L1080.6,891.88 L1082.6,891.71 L1084.6,891.54 L1086.6,891.37 L1088.6,891.19 L1090.6,891.01 L1092.6,890.83 L1094.6,890.65 L1096.6,890.46 L1098.6,890.27 L1100.6,890.07 L1102.6,889.87 L1104.6,889.67 L1106.6,889.46 L1108.6,889.25 L1110.6,889.04 L1112.6,888.82 L1114.6,888.59 L1116.6,888.36 L1118.6,888.13 L1120.6,887.89 L1122.6,887.65 L1124.6,887.4 L1126.6,887.15 L1128.6,886.89 L1130.6,886.63 L1132.6,886.36 L1134.6,886.08 L1136.6,885.8 L1138.6,885.51 L1140.6,885.22 L1142.6,884.92 L1144.6,884.62 L1146.6,884.3 L1148.6,883.98 L1150.6,883.65 L1152.6,883.32 L1154.6,882.97 L1156.6,882.62 L1158.6,882.26 L1160.6,881.89 L1162.6,881.51 L1164.6,881.12 L1166.6,880.72 L1168.6,880.31 L1170.6,879.9 L1172.6,879.47 L1174.6,879.04 L1176.6,878.59 L1178.6,878.14 L1180.6,877.68 L1182.6,877.21 L1184.6,876.73 L1186.6,876.24 L1188.6,875.75 L1190.6,875.24 L1192.6,874.73 L1194.6,874.21 L1196.6,873.68 L1198.6,873.14 L1200.6,872.59 L1202.6,872.04 L1204.6,871.47 L1206.6,870.89 L1208.6,870.3 L1210.6,869.7 L1212.6,869.09 L1214.6,868.47 L1216.6,867.83 L1218.6,867.18 L1220.6,866.52 L1222.6,865.84 L1224.6,865.15 L1226.6,864.44 L1228.6,863.72 L1230.6,862.99 L1232.6,862.24 L1234.6,861.47 L1236.6,860.69 L1238.6,859.89 L1240.6,859.08 L1242.6,858.25 L1244.6,857.4 L1246.6,856.54 L1248.6,855.67 L1250.6,854.78 L1252.6,853.88 L1254.6,852.96 L1256.6,852.03 L1258.6,851.09 L1260.6,850.13 L1262.6,849.17 L1264.6,848.19 L1266.6,847.19 L1268.6,846.19 L1270.6,845.18 L1272.6,844.15 L1274.6,843.11 L1276.6,842.07 L1278.6,841.02 L1280.6,839.95 L1282.6,838.89 L1284.6,837.81 L1286.6,836.72 L1288.6,835.63 L1289.7,834.54" fill="none" stroke="#ff0000" stroke-width="2" stroke-linejoin="round"/>
<path d="M956.4,758.94 L958.4,757.77 L960.4,756.61 L962.4,755.45 L964.4,754.29 L966.4,753.13 L968.4,751.98 L970.4,750.83 L972.4,749.69 L974.4,748.55 L976.4,747.41 L978.4,746.28 L980.4,745.15 L982.4,744.03 L984.4,742.9 L986.4,741.79 L988.4,740.67 L990.4,739.56 L992.4,738.45 L994.4,737.34 L996.4,736.24 L998.4,735.14 L1000.4,734.04 L1002.4,732.95 L1004.4,731.85 L1006.4,730.77 L1008.4,729.68 L1010.4,728.6 L1012.4,727.53 L1014.4,726.46 L1016.4,725.39 L1018.4,724.33 L1020.4,723.28 L1022.4,722.23 L1024.4,721.18 L1026.4,720.14 L1028.4,719.1 L1030.4,718.07 L1032.4,717.04 L1034.4,716.01 L1036.4,714.98 L1038.4,713.95 L1040.4,712.92 L1042.4,711.9 L1044.4,710.87 L1046.4,709.85 L1048.4,708.83 L1050.4,707.81 L1052.4,706.79 L1054.4,705.78 L1056.4,704.77 L1058.4,703.77 L1060.4,702.77 L1062.4,701.78 L1064.4,700.79 L1066.4,699.81 L1068.4,698.84 L1070.4,697.87 L1072.4,696.9 L1074.4,695.94 L1076.4,694.99 L1078.4,694.04 L1080.4,693.09 L1082.4,692.15 L1084.4,691.21 L1086.4,690.28 L1088.4,689.36 L1090.4,688.44 L1092.4,687.53 L1094.4,686.63 L1096.4,685.74 L1098.4,684.85 L1100.4,683.98 L1102.4,683.12 L1104.4,682.27 L1106.4,681.44 L1108.4,680.61 L1110.4,679.8 L1112.4,679 L1114.4,678.21 L1116.4,677.43 L1118.4,676.66 L1120.4,675.9 L1122.4,675.15 L1124.4,674.4 L1126.4,673.67 L1128.4,672.94 L1130.4,672.22 L1132.4,671.5 L1134.4,670.79 L1136.4,670.08 L1138.4,669.37 L1140.4,668.67 L1142.4,667.97 L1144.4,667.28 L1146.4,666.59 L1148.4,665.91 L1150.4,665.23 L1152.4,664.55 L1154.4,663.88 L1156.4,663.22 L1158.4,662.56 L1160.4,661.91 L1162.4,661.26 L1164.4,660.62 L1166.4,659.98 L1168.4,659.36 L1170.4,658.73 L1172.4,658.12 L1174.4,657.5 L1176.4,656.89 L1178.4,656.28 L1180.4,655.68 L1182.4,655.08 L1184.4,654.48 L1186.4,653.89 L1188.4,653.29 L1190.4,652.7 L1192.4,652.11 L1194.4,651.53 L1196.4,650.94 L1198.4,650.36 L1200.4,649.78 L1202.4,649.2 L1204.4,648.63 L1206.4,648.06 L1208.4,647.49 L1210.4,646.92 L1212.4,646.36 L1214.4,645.8 L1216.4,645.25 L1218.4,644.7 L1220.4,644.15 L1222.4,643.6 L1224.4,643.06 L1226.4,642.52 L1228.4,641.99 L1230.4,641.46 L1232.4,640.93 L1234.4,640.41 L1236.4,639.89 L1238.4,639.37 L1240.4,638.86 L1242.4,638.35 L1244.4,637.85 L1246.4,637.35 L1248.4,636.85 L1250.4,636.36 L1252.4,635.87 L1254.4,635.39 L1256.4,634.91 L1258.4,634.43 L1260.4,633.96 L1262.4,633.5 L1264.4,633.04 L1266.4,632.58 L1268.4,632.13 L1270.4,631.69 L1272.4,631.26 L1274.4,630.83 L1276.4,630.4 L1278.4,629.99 L1280.4,629.57 L1282.4,629.17 L1284.4,628.77 L1286.4,628.38 L1288.4,627.99 L1290.4,627.6 L1292.4,627.23 L1294.4,626.85 L1296.4,626.48 L1298.4,626.11 L1300.4,625.75 L1302.4,625.39 L1304.4,625.02 L1306.4,624.66 L1308.4,624.31 L1310.4,623.95 L1312.4,623.59 L1314.4,623.23 L1316.4,622.87 L1318.4,622.51 L1320.4,622.15 L1322.4,621.79 L1324.4,621.42 L1326.4,621.06 L1328.4,620.69 L1330.4,620.33 L1332.4,619.96 L1334.4,619.59 L1336.4,619.22 L1338.4,618.86 L1340.4,618.49 L1342.4,618.11 L1344.4,617.74 L1346.4,617.37 L1348.4,617 L1350.4,616.63 L1352.4,616.26 L1354.4,615.89 L1356.4,615.51 L1358.4,615.14 L1360.4,614.77 L1362.4,614.4 L1364.4,614.03 L1366.4,613.65 L1368.4,613.28 L1370.4,612.91 L1372.4,612.54 L1374.4,612.17 L1376.4,611.8 L1378.4,611.43 L1380.4,611.06 L1382.4,610.69 L1384.4,610.32 L1386.4,609.95 L1388.4,609.58 L1390.4,609.22 L1392.4,608.85 L1394.4,608.48 L1396.4,608.12 L1396.7,607.94" fill="none" stroke="#33a966" stroke-width="2" stroke-linejoin="round"/>
<ellipse cx="443.5" cy="1292" rx="297" ry="105.5" transform="rotate(24.5 443.5 1292)" fill="#fad2e4"/>
<ellipse cx="715.5" cy="1173" rx="109.3" ry="40.4" transform="rotate(30.3 715.5 1173)" fill="#e7f4d9"/>
<ellipse cx="1108.6" cy="1133.2" rx="311.5" ry="41.6" transform="rotate(-3.3 1108.6 1133.2)" fill="#ccffff"/>
<rect x="102.3" y="1083" width="1379.2" height="436.29999999999995" fill="none" stroke="#000" stroke-width="1.6"/>
<line x1="102.3" y1="1519.3" x2="118.3" y2="1519.3" stroke="#000" stroke-width="1.6"/>
<line x1="102.3" y1="1475.67" x2="110.3" y2="1475.67" stroke="#000" stroke-width="1.6"/>
<line x1="102.3" y1="1432.04" x2="118.3" y2="1432.04" stroke="#000" stroke-width="1.6"/>
<line x1="102.3" y1="1388.41" x2="110.3" y2="1388.41" stroke="#000" stroke-width="1.6"/>
<line x1="102.3" y1="1344.78" x2="118.3" y2="1344.78" stroke="#000" stroke-width="1.6"/>
<line x1="102.3" y1="1301.15" x2="110.3" y2="1301.15" stroke="#000" stroke-width="1.6"/>
<line x1="102.3" y1="1257.52" x2="118.3" y2="1257.52" stroke="#000" stroke-width="1.6"/>
<line x1="102.3" y1="1213.89" x2="110.3" y2="1213.89" stroke="#000" stroke-width="1.6"/>
<line x1="102.3" y1="1170.26" x2="118.3" y2="1170.26" stroke="#000" stroke-width="1.6"/>
<line x1="102.3" y1="1126.63" x2="110.3" y2="1126.63" stroke="#000" stroke-width="1.6"/>
<line x1="102.3" y1="1083" x2="118.3" y2="1083" stroke="#000" stroke-width="1.6"/>
<text x="71" y="1530.1" font-size="24" text-anchor="middle">0</text>
<text x="71" y="1442.84" font-size="24" text-anchor="middle">20</text>
<text x="71" y="1355.58" font-size="24" text-anchor="middle">40</text>
<text x="71" y="1268.32" font-size="24" text-anchor="middle">60</text>
<text x="71" y="1181.06" font-size="24" text-anchor="middle">80</text>
<text x="71" y="1093.8" font-size="24" text-anchor="middle">100</text>
<line x1="102.3" y1="1519.3" x2="102.3" y2="1503.3" stroke="#000" stroke-width="1.6"/>
<line x1="240.22" y1="1519.3" x2="240.22" y2="1511.3" stroke="#000" stroke-width="1.6"/>
<line x1="378.14" y1="1519.3" x2="378.14" y2="1503.3" stroke="#000" stroke-width="1.6"/>
<line x1="516.06" y1="1519.3" x2="516.06" y2="1511.3" stroke="#000" stroke-width="1.6"/>
<line x1="653.98" y1="1519.3" x2="653.98" y2="1503.3" stroke="#000" stroke-width="1.6"/>
<line x1="791.9" y1="1519.3" x2="791.9" y2="1511.3" stroke="#000" stroke-width="1.6"/>
<line x1="929.82" y1="1519.3" x2="929.82" y2="1503.3" stroke="#000" stroke-width="1.6"/>
<line x1="1067.74" y1="1519.3" x2="1067.74" y2="1511.3" stroke="#000" stroke-width="1.6"/>
<line x1="1205.66" y1="1519.3" x2="1205.66" y2="1503.3" stroke="#000" stroke-width="1.6"/>
<line x1="1343.58" y1="1519.3" x2="1343.58" y2="1511.3" stroke="#000" stroke-width="1.6"/>
<line x1="1481.5" y1="1519.3" x2="1481.5" y2="1503.3" stroke="#000" stroke-width="1.6"/>
<text x="102.3" y="1553.2" font-size="24" text-anchor="middle">0.2</text>
<text x="378.14" y="1553.2" font-size="24" text-anchor="middle">0.3</text>
<text x="653.98" y="1553.2" font-size="24" text-anchor="middle">0.4</text>
<text x="929.82" y="1553.2" font-size="24" text-anchor="middle">0.5</text>
<text x="1205.66" y="1553.2" font-size="24" text-anchor="middle">0.6</text>
<text x="1481.5" y="1553.2" font-size="24" text-anchor="middle">0.7</text>
<circle cx="711" cy="1118.5" r="9.6" fill="#000"/>
<circle cx="653.6" cy="1178.7" r="9.6" fill="#000"/>
<circle cx="791.4" cy="1191.6" r="9.6" fill="#000"/>
<circle cx="791.4" cy="1222" r="9.6" fill="#000"/>
<circle cx="929.5" cy="1104.1" r="9.6" fill="#000"/>
<circle cx="929.5" cy="1126.1" r="9.6" fill="#000"/>
<circle cx="819.1" cy="1164.7" r="9.6" fill="#ff0000"/>
<circle cx="957.1" cy="1133.3" r="9.6" fill="#ff0000"/>
<circle cx="984.7" cy="1100.4" r="9.6" fill="#000"/>
<circle cx="1125.2" cy="1104.4" r="9.6" fill="#000"/>
<circle cx="1205.4" cy="1104.4" r="9.6" fill="#000"/>
<circle cx="1205.4" cy="1126.5" r="9.6" fill="#000"/>
<circle cx="1343.2" cy="1100.4" r="9.6" fill="#000"/>
<circle cx="377.6" cy="1156.8" r="9.6" fill="#000"/>
<circle cx="239.6" cy="1290.1" r="9.6" fill="#000"/>
<circle cx="653.4" cy="1427.4" r="9.6" fill="#000"/>
<text x="603.7" y="1124.3" font-size="23.6">Pt-AuCu</text>
<text x="674.7" y="1194.8" font-size="23.6">Pt/TiC</text>
<text x="761.2" y="1258.7" font-size="23.6">Pt/TiN</text>
<text x="813.2" y="1207.4" font-size="23.6">Pt/CNT_IL_SiO2</text>
<text x="834.2" y="1112.9" font-size="23.6">Pt/HSC</text>
<text x="807" y="1137.1" font-size="23.6">Au<tspan font-size="14" dy="7.4">1-x</tspan><tspan dy="-7.4">Pd</tspan><tspan font-size="14" dy="7.4">x</tspan><tspan dy="-7.4">/C</tspan></text>
<text x="830.2" y="1180.8" font-size="23.6" fill="#ff0000">Pt-S-CNT_250°C</text>
<text x="961.2" y="1159.3" font-size="23.6" fill="#ff0000">Pt-S-CNT_350°C</text>
<text x="1005.8" y="1108.9" font-size="23.6">Pt-Hg</text>
<text x="1095.3" y="1139.2" font-size="23.6">CoNOC</text>
<text x="1226.3" y="1112" font-size="23.6">Pd-Hg/C</text>
<text x="1175.4" y="1160.1" font-size="23.6">Co-NC</text>
<text x="1363.5" y="1110.4" font-size="23.6">Pt<tspan font-size="14" dy="7.6">1</tspan><tspan dy="-7.6">-CuS</tspan><tspan font-size="14" dy="7.6">x</tspan></text>
<text x="399.3" y="1173" font-size="23.6">CMK-3</text>
<text x="263.6" y="1305.7" font-size="23.6">O-CNTs</text>
<text x="675.1" y="1443.4" font-size="23.6">meso-BMP</text>
<text transform="translate(29.8,1306.8) rotate(-90)" font-size="26.1" text-anchor="middle">max. H<tspan font-size="15" dy="8.2">2</tspan><tspan dy="-8.2">O</tspan><tspan font-size="15" dy="8.2">2</tspan><tspan dy="-8.2"> selectivity (%)</tspan></text>
<text x="796.8" y="1593" font-size="26" text-anchor="middle">Onset potential (V, j<tspan font-size="16" dy="8">H2O2</tspan><tspan dy="-8">=0.1 mA cm</tspan><tspan font-size="16" dy="-11">-2</tspan><tspan dy="11">)</tspan></text>
</svg></body></html>
